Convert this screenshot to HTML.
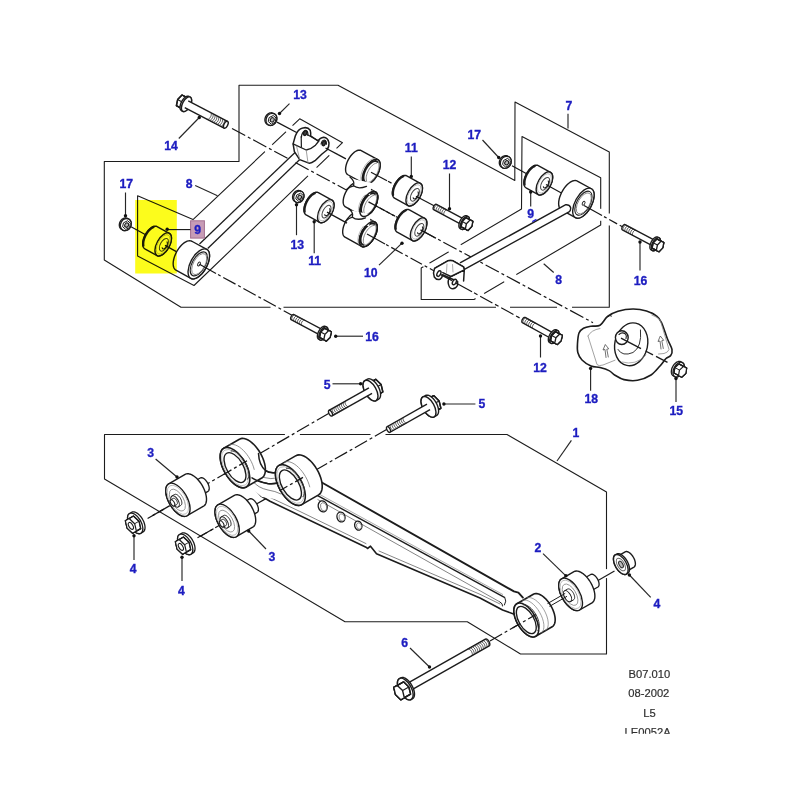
<!DOCTYPE html>
<html><head><meta charset="utf-8"><title>B07.010</title>
<style>
html,body{margin:0;padding:0;background:#fff;}
body{width:800px;height:800px;overflow:hidden;font-family:"Liberation Sans",sans-serif;}
svg{display:block;font-family:"Liberation Sans",sans-serif;filter:blur(0.45px);}
</style></head><body>
<svg width="800" height="800" viewBox="0 0 800 800">
<rect width="800" height="800" fill="#fff"/>
<polyline points="239,161.5 239,85.3 338,85.3 514.8,180.4 515,102 609.3,152 609.3,307.3 181,307.3 104.3,260 104.3,161.5 239,161.5" fill="none" stroke="#1c1c1c" stroke-width="1.1" stroke-linejoin="round" stroke-linecap="round" />
<polyline points="137.6,256 137.6,195.8 193,219.6 299.7,118.8 342.5,142.7 194,285.5 137.6,256" fill="none" stroke="#1c1c1c" stroke-width="1.1" stroke-linejoin="round" stroke-linecap="round" />
<polyline points="521.5,209 522,136.6 600.7,177.7 600.7,225 474,299.5 421.2,299.5 421.2,268 521.5,209" fill="none" stroke="#1c1c1c" stroke-width="1.1" stroke-linejoin="round" stroke-linecap="round" />
<polygon points="104.5,434.5 507,434.5 606.5,492 606.5,654 520.5,654 467.3,621.7 345,621.7 104.5,479" fill="none" stroke="#1c1c1c" stroke-width="1.1" stroke-linejoin="round" stroke-linecap="round" />
<line x1="606.5" y1="569.1" x2="606.5" y2="578.1" stroke="#fff" stroke-width="3.2" />
<line x1="496" y1="307.3" x2="510" y2="307.3" stroke="#fff" stroke-width="3.2" />
<line x1="557" y1="307.3" x2="572" y2="307.3" stroke="#fff" stroke-width="3.2" />
<line x1="270.5" y1="307.3" x2="283.5" y2="307.3" stroke="#fff" stroke-width="3.2" />
<line x1="284.9" y1="434.5" x2="299.9" y2="434.5" stroke="#fff" stroke-width="3.2" />
<line x1="370.5" y1="434.5" x2="385.5" y2="434.5" stroke="#fff" stroke-width="3.2" />
<line x1="264.97" y1="151.64" x2="272.23" y2="144.76" stroke="#fff" stroke-width="3.2" />
<line x1="285.93" y1="131.69" x2="292.47" y2="125.51" stroke="#fff" stroke-width="3.2" />
<line x1="307.98" y1="175.86" x2="316.62" y2="167.54" stroke="#fff" stroke-width="3.2" />
<line x1="329.3" y1="155.37" x2="336.5" y2="148.43" stroke="#fff" stroke-width="3.2" />
<line x1="600.7" y1="208.8" x2="600.7" y2="220.8" stroke="#fff" stroke-width="3.2" />
<line x1="609.3" y1="213.5" x2="609.3" y2="225.5" stroke="#fff" stroke-width="3.2" />
<line x1="504.27" y1="281.75" x2="516.33" y2="274.65" stroke="#fff" stroke-width="3.2" />
<line x1="475.59" y1="298.64" x2="484.21" y2="293.56" stroke="#fff" stroke-width="3.2" />
<line x1="448.67" y1="251.85" x2="460.73" y2="244.75" stroke="#fff" stroke-width="3.2" />
<line x1="423.48" y1="266.78" x2="429.52" y2="263.22" stroke="#fff" stroke-width="3.2" />
<line x1="232" y1="128.46" x2="593" y2="322.68" stroke="#161616" stroke-width="1.2" stroke-dasharray="15 3 3 3" stroke-dashoffset="0"/>
<polygon points="199.5,244 300,147.5 306,152 207.7,248.5" fill="#fff" stroke="#1c1c1c" stroke-width="0" stroke-linejoin="round" stroke-linecap="round" />
<line x1="199.5" y1="244" x2="300" y2="147.7" stroke="#1c1c1c" stroke-width="1.3" />
<line x1="207.7" y1="248.5" x2="306" y2="153.5" stroke="#1c1c1c" stroke-width="1.3" />
<polygon points="176.38,105.74 177.64,99.56 182.01,95 185.11,96.63 186.44,97.32 189.54,98.95 188.27,105.13 183.91,109.69 179.48,107.36" fill="#fff" stroke="#1c1c1c" stroke-width="1.4" stroke-linejoin="round" stroke-linecap="round" />
<line x1="182.07" y1="101.88" x2="177.64" y2="99.56" stroke="#1c1c1c" stroke-width="1.1199999999999999" />
<line x1="186.44" y1="97.32" x2="182.01" y2="95" stroke="#1c1c1c" stroke-width="1.1199999999999999" />
<line x1="189.54" y1="98.95" x2="185.11" y2="96.63" stroke="#1c1c1c" stroke-width="1.1199999999999999" />
<line x1="188.27" y1="105.13" x2="183.84" y2="102.81" stroke="#1c1c1c" stroke-width="1.1199999999999999" />
<line x1="183.91" y1="109.69" x2="179.48" y2="107.36" stroke="#1c1c1c" stroke-width="1.1199999999999999" />
<line x1="180.81" y1="108.06" x2="176.38" y2="105.74" stroke="#1c1c1c" stroke-width="1.1199999999999999" />
<polygon points="176.38,105.74 177.64,99.56 182.01,95 185.11,96.63 186.44,97.32 189.54,98.95 188.27,105.13 183.91,109.69 179.48,107.36" fill="none" stroke="#1c1c1c" stroke-width="1.4" stroke-linejoin="round" stroke-linecap="round" />
<polygon points="182.07,101.88 186.44,97.32 189.54,98.95 188.27,105.13 183.91,109.69 180.81,108.06" fill="#fff" stroke="#1c1c1c" stroke-width="1.4" stroke-linejoin="round" stroke-linecap="round" />
<polygon points="188.89,96.42 188.39,96.24 187.84,96.18 187.25,96.25 186.62,96.44 185.96,96.75 185.29,97.18 184.62,97.72 183.96,98.35 183.32,99.08 182.71,99.88 182.14,100.74 181.63,101.65 181.17,102.59 180.79,103.54 180.48,104.5 180.25,105.44 180.1,106.34 180.04,107.2 180.07,107.99 180.18,108.71 180.38,109.34 180.67,109.87 181.03,110.29 181.46,110.59 182.79,111.29 183.28,111.47 183.83,111.52 184.42,111.46 185.05,111.26 185.71,110.95 186.38,110.52 187.05,109.99 187.71,109.35 188.35,108.63 188.96,107.83 189.53,106.97 190.04,106.06 190.5,105.12 190.88,104.16 191.19,103.2 191.43,102.27 191.57,101.36 191.63,100.5 191.6,99.71 191.49,98.99 191.29,98.36 191,97.84 190.64,97.42 190.21,97.11" fill="#fff" stroke="#1c1c1c" stroke-width="1.4" stroke-linejoin="round" stroke-linecap="round" />
<ellipse cx="0" cy="0" rx="4" ry="8" transform="translate(186.5 104.2) rotate(207.66)" fill="#fff" stroke="#1c1c1c" stroke-width="1.4" />
<polygon points="227.54,121.48 188.24,100.88 184.76,107.52 224.06,128.12" fill="#fff" stroke="#1c1c1c" stroke-width="0" stroke-linejoin="round" stroke-linecap="round" />
<line x1="227.54" y1="121.48" x2="188.24" y2="100.88" stroke="#1c1c1c" stroke-width="1.4" />
<line x1="224.06" y1="128.12" x2="184.76" y2="107.52" stroke="#1c1c1c" stroke-width="1.4" />
<polyline points="225.67,120.5 226.27,121.38 226.24,122.91 225.59,124.69 224.5,126.23 223.25,127.13 222.19,127.14" fill="none" stroke="#1c1c1c" stroke-width="0.7" stroke-linejoin="round" stroke-linecap="round" />
<polyline points="223.8,119.52 224.4,120.4 224.37,121.93 223.72,123.71 222.63,125.25 221.38,126.15 220.32,126.16" fill="none" stroke="#1c1c1c" stroke-width="0.7" stroke-linejoin="round" stroke-linecap="round" />
<polyline points="221.93,118.54 222.53,119.42 222.5,120.95 221.85,122.73 220.76,124.27 219.51,125.17 218.45,125.18" fill="none" stroke="#1c1c1c" stroke-width="0.7" stroke-linejoin="round" stroke-linecap="round" />
<polyline points="220.06,117.56 220.66,118.44 220.63,119.97 219.98,121.75 218.89,123.29 217.64,124.19 216.58,124.2" fill="none" stroke="#1c1c1c" stroke-width="0.7" stroke-linejoin="round" stroke-linecap="round" />
<polyline points="218.19,116.58 218.79,117.46 218.76,118.99 218.11,120.77 217.02,122.31 215.77,123.21 214.71,123.22" fill="none" stroke="#1c1c1c" stroke-width="0.7" stroke-linejoin="round" stroke-linecap="round" />
<polyline points="216.32,115.6 216.92,116.48 216.89,118.01 216.24,119.79 215.15,121.33 213.9,122.23 212.84,122.24" fill="none" stroke="#1c1c1c" stroke-width="0.7" stroke-linejoin="round" stroke-linecap="round" />
<polyline points="214.45,114.62 215.05,115.5 215.02,117.03 214.37,118.81 213.28,120.35 212.03,121.25 210.97,121.26" fill="none" stroke="#1c1c1c" stroke-width="0.7" stroke-linejoin="round" stroke-linecap="round" />
<polyline points="212.58,113.64 213.18,114.52 213.15,116.05 212.5,117.83 211.41,119.37 210.16,120.27 209.1,120.28" fill="none" stroke="#1c1c1c" stroke-width="0.7" stroke-linejoin="round" stroke-linecap="round" />
<polyline points="210.71,112.66 211.31,113.54 211.28,115.07 210.63,116.85 209.54,118.39 208.29,119.29 207.23,119.3" fill="none" stroke="#1c1c1c" stroke-width="0.7" stroke-linejoin="round" stroke-linecap="round" />
<ellipse cx="0" cy="0" rx="1.88" ry="3.75" transform="translate(225.8 124.8) rotate(27.66)" fill="#fff" stroke="#1c1c1c" stroke-width="1.4" />
<polygon points="273.38,113.3 272.77,113.02 272.11,112.85 271.42,112.77 270.71,112.8 270,112.93 269.29,113.16 268.6,113.49 267.95,113.91 267.33,114.41 266.76,114.99 266.26,115.63 265.82,116.33 265.46,117.08 265.19,117.85 265,118.64 264.91,119.43 264.91,120.21 265,120.97 265.18,121.69 265.46,122.36 265.81,122.97 266.25,123.51 266.75,123.97 267.31,124.34 268.36,124.92 268.98,125.2 269.64,125.38 270.33,125.45 271.04,125.43 271.75,125.29 272.45,125.06 273.14,124.74 273.8,124.32 274.42,123.81 274.99,123.23 275.49,122.59 275.93,121.89 276.28,121.15 276.56,120.38 276.74,119.59 276.84,118.79 276.84,118.01 276.75,117.26 276.56,116.54 276.29,115.86 275.94,115.25 275.5,114.71 275,114.25 274.44,113.88" fill="#fff" stroke="#1c1c1c" stroke-width="1.3" stroke-linejoin="round" stroke-linecap="round" />
<ellipse cx="0" cy="0" rx="5.17" ry="6.3" transform="translate(271.4 119.4) rotate(208.8)" fill="#fff" stroke="#1c1c1c" stroke-width="1.3" />
<polygon points="269.45,117.43 273.21,115.53 276.05,117.99 275.11,122.34 271.34,124.23 268.51,121.77" fill="#fff" stroke="#1c1c1c" stroke-width="1.0" stroke-linejoin="round" stroke-linecap="round" />
<ellipse cx="0" cy="0" rx="1.86" ry="2.27" transform="translate(272.28 119.88) rotate(208.8)" fill="#bbb" stroke="#1c1c1c" stroke-width="1.1" />
<line x1="277" y1="122.1" x2="298" y2="133.3" stroke="#161616" stroke-width="1.2" />
<path d="M293.1,143.9 L295.3,136 Q298,129 302.7,128.1 Q307.5,126.5 310.2,130.3 Q311,133 310.6,135.8 L318,141 Q320,137.8 323.7,137.3 Q327.8,137.5 329,143 Q329.3,147 327,150 L322,154 L315,160.7 Q311,163.6 308.9,163.1 L299.7,159.6 L294.4,151.7 Z" fill="#fff" stroke="#1c1c1c" stroke-width="1.5" stroke-linejoin="round" stroke-linecap="round" />
<path d="M293.1,143.9 L306.2,150 Q312,148.5 315.5,145.2 Q317.5,142.5 318.5,141.5" fill="none" stroke="#1c1c1c" stroke-width="1.3" stroke-linejoin="round" stroke-linecap="round" />
<path d="M306.2,150 L308,162.8 M296.5,146 L299.7,159.3" fill="none" stroke="#888" stroke-width="0.8" stroke-linejoin="round" stroke-linecap="round" />
<path d="M301.2,136.5 L301.4,147" fill="none" stroke="#1c1c1c" stroke-width="1.2" stroke-linejoin="round" stroke-linecap="round" />
<path d="M301.4,137.2 Q301.6,132.5 305.4,130.4 Q308,130.3 308,135.4" fill="none" stroke="#1c1c1c" stroke-width="1.2" stroke-linejoin="round" stroke-linecap="round" />
<path d="M321.1,144 Q321.8,140.3 324.3,140 Q326.6,140.5 326.4,144.2" fill="none" stroke="#1c1c1c" stroke-width="1.2" stroke-linejoin="round" stroke-linecap="round" />
<ellipse cx="0" cy="0" rx="1.5" ry="2.4" transform="translate(305.2 133.1) rotate(20)" fill="#444" stroke="#1c1c1c" stroke-width="1.5" />
<ellipse cx="0" cy="0" rx="1.5" ry="2.4" transform="translate(323.9 143.3) rotate(20)" fill="#444" stroke="#1c1c1c" stroke-width="1.5" />
<line x1="306.5" y1="134.2" x2="319.5" y2="141.3" stroke="#1c1c1c" stroke-width="1.3" />
<line x1="325.5" y1="147.96" x2="338" y2="154.62" stroke="#161616" stroke-width="1.2" />
<line x1="338" y1="154.62" x2="352" y2="162.08" stroke="#161616" stroke-width="1.2" stroke-dasharray="9 3 3 3" stroke-dashoffset="0"/>
<polygon points="361.2,150.55 360.35,150.22 359.41,150.11 358.38,150.2 357.28,150.51 356.14,151.03 354.98,151.75 353.8,152.65 352.64,153.72 351.51,154.95 350.43,156.31 349.42,157.77 348.5,159.32 347.69,160.93 346.99,162.57 346.42,164.2 345.99,165.81 345.71,167.37 345.57,168.85 345.59,170.22 345.77,171.46 346.09,172.55 346.56,173.47 347.17,174.2 347.9,174.74 364.55,183.89 365.4,184.22 366.34,184.34 367.37,184.24 368.47,183.93 369.61,183.42 370.77,182.7 371.95,181.8 373.11,180.73 374.24,179.5 375.32,178.14 376.33,176.67 377.25,175.12 378.06,173.52 378.76,171.88 379.33,170.24 379.76,168.63 380.04,167.08 380.18,165.6 380.16,164.23 379.98,162.99 379.66,161.9 379.19,160.98 378.58,160.24 377.85,159.71" fill="#fff" stroke="#1c1c1c" stroke-width="1.4" stroke-linejoin="round" stroke-linecap="round" />
<ellipse cx="0" cy="0" rx="6.9" ry="13.8" transform="translate(371.2 171.8) rotate(208.8)" fill="#fff" stroke="#1c1c1c" stroke-width="1.4" />
<polyline points="362.2,182.36 361.48,181.26 361.02,179.84 360.82,178.16 360.89,176.26 361.24,174.2 361.84,172.04 362.69,169.86 363.75,167.71 365,165.66 366.39,163.77 367.89,162.1 369.44,160.71 371,159.63 372.53,158.89 373.98,158.53 375.3,158.54" fill="none" stroke="#999" stroke-width="0.7" stroke-linejoin="round" stroke-linecap="round" />
<polyline points="366.47,182.54 365.48,182.2 364.67,181.55 364.05,180.6 363.65,179.38 363.48,177.93 363.54,176.3 363.84,174.52 364.36,172.67 365.09,170.79 366,168.94 367.07,167.18 368.27,165.56 369.56,164.12 370.89,162.93 372.24,162 373.55,161.36 374.79,161.05 375.93,161.06 376.92,161.4 377.73,162.05" fill="none" stroke="#1c1c1c" stroke-width="1.9" stroke-linejoin="round" stroke-linecap="round" />
<polyline points="377.73,162.05 378.24,162.79 378.62,163.71 378.85,164.78 378.93,165.98 378.86,167.3 378.64,168.71 378.28,170.18 377.77,171.68 377.15,173.18 376.4,174.66 375.55,176.08 374.62,177.41 373.62,178.64 372.58,179.74 371.51,180.67 370.43,181.44 369.37,182.02 368.34,182.4 367.37,182.57 366.47,182.54" fill="none" stroke="#777" stroke-width="0.8" stroke-linejoin="round" stroke-linecap="round" />
<polyline points="366.72,181.05 366.39,180.08 366.22,178.95 366.21,177.67 366.37,176.29 366.69,174.83 367.16,173.33 367.77,171.81 368.52,170.33 369.37,168.9 370.32,167.57 371.34,166.37 372.4,165.31 373.48,164.44 374.56,163.76 375.61,163.3 376.61,163.07" fill="none" stroke="#666" stroke-width="0.8" stroke-linejoin="round" stroke-linecap="round" />
<line x1="371" y1="172.21" x2="387" y2="180.73" stroke="#161616" stroke-width="1.2" />
<line x1="388" y1="181.27" x2="396" y2="185.53" stroke="#161616" stroke-width="1.2" stroke-dasharray="4 3" stroke-dashoffset="0"/>
<polygon points="358.8,182.75 357.95,182.42 357.01,182.31 355.98,182.4 354.88,182.71 353.74,183.23 352.58,183.95 351.4,184.85 350.24,185.92 349.11,187.15 348.03,188.51 347.02,189.97 346.1,191.52 345.29,193.13 344.59,194.77 344.02,196.4 343.59,198.01 343.31,199.57 343.17,201.05 343.19,202.42 343.37,203.66 343.69,204.75 344.16,205.67 344.77,206.4 345.5,206.94 362.15,216.09 363,216.42 363.94,216.54 364.97,216.44 366.07,216.13 367.21,215.62 368.37,214.9 369.55,214 370.71,212.93 371.84,211.7 372.92,210.34 373.93,208.87 374.85,207.32 375.66,205.72 376.36,204.08 376.93,202.44 377.36,200.83 377.64,199.28 377.78,197.8 377.76,196.43 377.58,195.19 377.26,194.1 376.79,193.18 376.18,192.44 375.45,191.91" fill="#fff" stroke="#1c1c1c" stroke-width="1.4" stroke-linejoin="round" stroke-linecap="round" />
<ellipse cx="0" cy="0" rx="6.9" ry="13.8" transform="translate(368.8 204) rotate(208.8)" fill="#fff" stroke="#1c1c1c" stroke-width="1.4" />
<polyline points="359.8,214.56 359.08,213.46 358.62,212.04 358.42,210.36 358.49,208.46 358.84,206.4 359.44,204.24 360.29,202.06 361.35,199.91 362.6,197.86 363.99,195.97 365.49,194.3 367.04,192.91 368.6,191.83 370.13,191.09 371.58,190.73 372.9,190.74" fill="none" stroke="#999" stroke-width="0.7" stroke-linejoin="round" stroke-linecap="round" />
<polyline points="364.07,214.74 363.08,214.4 362.27,213.75 361.65,212.8 361.25,211.58 361.08,210.13 361.14,208.5 361.44,206.72 361.96,204.87 362.69,202.99 363.6,201.14 364.67,199.38 365.87,197.76 367.16,196.32 368.49,195.13 369.84,194.2 371.15,193.56 372.39,193.25 373.53,193.26 374.52,193.6 375.33,194.25" fill="none" stroke="#1c1c1c" stroke-width="1.9" stroke-linejoin="round" stroke-linecap="round" />
<polyline points="375.33,194.25 375.84,194.99 376.22,195.91 376.45,196.98 376.53,198.18 376.46,199.5 376.24,200.91 375.88,202.38 375.37,203.88 374.75,205.38 374,206.86 373.15,208.28 372.22,209.61 371.22,210.84 370.18,211.94 369.11,212.87 368.03,213.64 366.97,214.22 365.94,214.6 364.97,214.77 364.07,214.74" fill="none" stroke="#777" stroke-width="0.8" stroke-linejoin="round" stroke-linecap="round" />
<polyline points="364.32,213.25 363.99,212.28 363.82,211.15 363.81,209.87 363.97,208.49 364.29,207.03 364.76,205.53 365.37,204.01 366.12,202.53 366.97,201.1 367.92,199.77 368.94,198.57 370,197.51 371.08,196.64 372.16,195.96 373.21,195.5 374.21,195.27" fill="none" stroke="#666" stroke-width="0.8" stroke-linejoin="round" stroke-linecap="round" />
<path d="M352.8,179 L353.2,188 L358,194 L370,195 L372,183 Z" fill="#fff" stroke="#1c1c1c" stroke-width="0" stroke-linejoin="round" stroke-linecap="round" />
<path d="M350,177 Q353.8,180.5 353.8,183 L353.6,185.8 Q350,186.5 346.5,189.5 M353.6,185.8 Q358,189.5 366.5,186.3" fill="none" stroke="#1c1c1c" stroke-width="1.3" stroke-linejoin="round" stroke-linecap="round" />
<polygon points="358.3,212.95 357.45,212.62 356.51,212.51 355.48,212.6 354.38,212.91 353.24,213.43 352.08,214.15 350.9,215.05 349.74,216.12 348.61,217.35 347.53,218.71 346.52,220.17 345.6,221.72 344.79,223.33 344.09,224.97 343.52,226.6 343.09,228.21 342.81,229.77 342.67,231.25 342.69,232.62 342.87,233.86 343.19,234.95 343.66,235.87 344.27,236.6 345,237.14 361.65,246.29 362.5,246.62 363.44,246.74 364.47,246.64 365.57,246.33 366.71,245.82 367.87,245.1 369.05,244.2 370.21,243.13 371.34,241.9 372.42,240.54 373.43,239.07 374.35,237.52 375.16,235.92 375.86,234.28 376.43,232.64 376.86,231.03 377.14,229.48 377.28,228 377.26,226.63 377.08,225.39 376.76,224.3 376.29,223.38 375.68,222.64 374.95,222.11" fill="#fff" stroke="#1c1c1c" stroke-width="1.4" stroke-linejoin="round" stroke-linecap="round" />
<ellipse cx="0" cy="0" rx="6.9" ry="13.8" transform="translate(368.3 234.2) rotate(208.8)" fill="#fff" stroke="#1c1c1c" stroke-width="1.4" />
<polyline points="359.3,244.76 358.58,243.66 358.12,242.24 357.92,240.56 357.99,238.66 358.34,236.6 358.94,234.44 359.79,232.26 360.85,230.11 362.1,228.06 363.49,226.17 364.99,224.5 366.54,223.11 368.1,222.03 369.63,221.29 371.08,220.93 372.4,220.94" fill="none" stroke="#999" stroke-width="0.7" stroke-linejoin="round" stroke-linecap="round" />
<polyline points="363.57,244.94 362.58,244.6 361.77,243.95 361.15,243 360.75,241.78 360.58,240.33 360.64,238.7 360.94,236.92 361.46,235.07 362.19,233.19 363.1,231.34 364.17,229.58 365.37,227.96 366.66,226.52 367.99,225.33 369.34,224.4 370.65,223.76 371.89,223.45 373.03,223.46 374.02,223.8 374.83,224.45" fill="none" stroke="#1c1c1c" stroke-width="1.9" stroke-linejoin="round" stroke-linecap="round" />
<polyline points="374.83,224.45 375.34,225.19 375.72,226.11 375.95,227.18 376.03,228.38 375.96,229.7 375.74,231.11 375.38,232.58 374.87,234.08 374.25,235.58 373.5,237.06 372.65,238.48 371.72,239.81 370.72,241.04 369.68,242.14 368.61,243.07 367.53,243.84 366.47,244.42 365.44,244.8 364.47,244.97 363.57,244.94" fill="none" stroke="#777" stroke-width="0.8" stroke-linejoin="round" stroke-linecap="round" />
<polyline points="363.82,243.45 363.49,242.48 363.32,241.35 363.31,240.07 363.47,238.69 363.79,237.23 364.26,235.73 364.87,234.21 365.62,232.73 366.47,231.3 367.42,229.97 368.44,228.77 369.5,227.71 370.58,226.84 371.66,226.16 372.71,225.7 373.71,225.47" fill="none" stroke="#666" stroke-width="0.8" stroke-linejoin="round" stroke-linecap="round" />
<path d="M351.8,210.5 L352.2,219.5 L357,225.5 L369,226 L371,214.5 Z" fill="#fff" stroke="#1c1c1c" stroke-width="0" stroke-linejoin="round" stroke-linecap="round" />
<path d="M348.5,208.5 Q352.6,212 352.6,214.5 L352.4,217.2 Q349,218 345.8,221 M352.4,217.2 Q357,221 365.5,217.8" fill="none" stroke="#1c1c1c" stroke-width="1.3" stroke-linejoin="round" stroke-linecap="round" />
<ellipse cx="0" cy="0" rx="6.9" ry="13.8" transform="translate(368.8 204) rotate(28.8)" fill="none" stroke="#1c1c1c" stroke-width="1.4" />
<ellipse cx="0" cy="0" rx="6.9" ry="13.8" transform="translate(368.3 234.2) rotate(28.8)" fill="none" stroke="#1c1c1c" stroke-width="1.4" />
<line x1="368.5" y1="201.9" x2="384.5" y2="210.5" stroke="#161616" stroke-width="1.2" />
<line x1="386" y1="211.31" x2="395" y2="216.15" stroke="#161616" stroke-width="1.2" stroke-dasharray="4 3" stroke-dashoffset="0"/>
<polygon points="300.64,190.96 300.05,190.7 299.42,190.53 298.77,190.46 298.1,190.48 297.42,190.61 296.74,190.83 296.09,191.14 295.46,191.54 294.87,192.02 294.33,192.57 293.85,193.19 293.44,193.85 293.1,194.56 292.84,195.29 292.66,196.04 292.57,196.8 292.57,197.54 292.66,198.26 292.83,198.95 293.09,199.59 293.43,200.17 293.84,200.69 294.32,201.13 294.86,201.48 295.91,202.06 296.5,202.32 297.12,202.49 297.78,202.56 298.45,202.54 299.13,202.41 299.8,202.19 300.46,201.88 301.09,201.48 301.68,201 302.22,200.45 302.7,199.84 303.11,199.17 303.45,198.46 303.71,197.73 303.89,196.98 303.98,196.22 303.98,195.48 303.89,194.76 303.72,194.07 303.46,193.43 303.12,192.85 302.71,192.33 302.23,191.9 301.69,191.54" fill="#fff" stroke="#1c1c1c" stroke-width="1.3" stroke-linejoin="round" stroke-linecap="round" />
<ellipse cx="0" cy="0" rx="4.92" ry="6" transform="translate(298.8 196.8) rotate(208.8)" fill="#fff" stroke="#1c1c1c" stroke-width="1.3" />
<polygon points="296.98,194.94 300.57,193.14 303.27,195.48 302.37,199.62 298.78,201.42 296.09,199.08" fill="#fff" stroke="#1c1c1c" stroke-width="1.0" stroke-linejoin="round" stroke-linecap="round" />
<ellipse cx="0" cy="0" rx="1.77" ry="2.16" transform="translate(299.68 197.28) rotate(208.8)" fill="#bbb" stroke="#1c1c1c" stroke-width="1.1" />
<polygon points="318.34,192.6 317.56,192.3 316.69,192.19 315.74,192.28 314.73,192.57 313.68,193.04 312.61,193.7 311.53,194.53 310.46,195.52 309.42,196.65 308.43,197.9 307.5,199.25 306.65,200.67 305.9,202.15 305.26,203.66 304.73,205.17 304.34,206.65 304.08,208.08 303.96,209.44 303.98,210.7 304.14,211.84 304.44,212.84 304.87,213.69 305.42,214.37 306.1,214.86 319.68,222.33 320.46,222.63 321.33,222.74 322.28,222.65 323.28,222.37 324.33,221.89 325.41,221.23 326.49,220.4 327.56,219.41 328.6,218.29 329.59,217.04 330.52,215.69 331.36,214.26 332.12,212.78 332.76,211.27 333.28,209.77 333.68,208.28 333.94,206.85 334.06,205.49 334.04,204.23 333.88,203.09 333.58,202.09 333.15,201.24 332.59,200.57 331.92,200.07" fill="#fff" stroke="#1c1c1c" stroke-width="1.4" stroke-linejoin="round" stroke-linecap="round" />
<ellipse cx="0" cy="0" rx="6.35" ry="12.7" transform="translate(325.8 211.2) rotate(208.8)" fill="#fff" stroke="#1c1c1c" stroke-width="1.4" />
<polyline points="304.62,211.6 304.48,210.32 304.52,208.9 304.72,207.38 305.09,205.78 305.61,204.15 306.28,202.52 307.09,200.91 308.01,199.37 309.03,197.93 310.13,196.61 311.27,195.45 312.45,194.46 313.63,193.68 314.79,193.1" fill="none" stroke="#1c1c1c" stroke-width="2.3" stroke-linejoin="round" stroke-linecap="round" />
<ellipse cx="0" cy="0" rx="5.33" ry="10.67" transform="translate(325.8 211.2) rotate(208.8)" fill="#fff" stroke="#aaa" stroke-width="0.7" />
<ellipse cx="0" cy="0" rx="3.49" ry="6.99" transform="translate(326.5 211.59) rotate(208.8)" fill="#fff" stroke="#444" stroke-width="1.0" />
<polyline points="329.61,208.73 329.96,209.47 330,210.53 329.72,211.77 329.16,213.05 328.38,214.21 327.48,215.11 326.57,215.64 325.76,215.74 325.14,215.4 324.79,214.66" fill="none" stroke="#1c1c1c" stroke-width="1.1" stroke-linejoin="round" stroke-linecap="round" />
<line x1="327" y1="212.12" x2="347" y2="223.1" stroke="#161616" stroke-width="1.2" />
<line x1="367" y1="234.08" x2="385" y2="243.96" stroke="#161616" stroke-width="1.2" />
<line x1="386" y1="244.51" x2="440" y2="274.16" stroke="#161616" stroke-width="1.2" stroke-dasharray="3 3 13 3" stroke-dashoffset="0"/>
<polygon points="406.74,175.8 405.96,175.5 405.09,175.39 404.14,175.48 403.13,175.77 402.08,176.24 401.01,176.9 399.93,177.73 398.86,178.72 397.82,179.85 396.83,181.1 395.9,182.45 395.05,183.87 394.3,185.35 393.66,186.86 393.13,188.37 392.74,189.85 392.48,191.28 392.36,192.64 392.38,193.9 392.54,195.04 392.84,196.04 393.27,196.89 393.82,197.57 394.5,198.06 408.08,205.53 408.86,205.83 409.73,205.94 410.68,205.85 411.68,205.57 412.73,205.09 413.81,204.43 414.89,203.6 415.96,202.61 417,201.49 417.99,200.24 418.92,198.89 419.76,197.46 420.52,195.98 421.16,194.47 421.68,192.97 422.08,191.48 422.34,190.05 422.46,188.69 422.44,187.43 422.28,186.29 421.98,185.29 421.55,184.44 420.99,183.77 420.32,183.27" fill="#fff" stroke="#1c1c1c" stroke-width="1.4" stroke-linejoin="round" stroke-linecap="round" />
<ellipse cx="0" cy="0" rx="6.35" ry="12.7" transform="translate(414.2 194.4) rotate(208.8)" fill="#fff" stroke="#1c1c1c" stroke-width="1.4" />
<polyline points="393.02,194.8 392.88,193.52 392.92,192.1 393.12,190.58 393.49,188.98 394.01,187.35 394.68,185.72 395.49,184.11 396.41,182.57 397.43,181.13 398.53,179.81 399.67,178.65 400.85,177.66 402.03,176.88 403.19,176.3" fill="none" stroke="#1c1c1c" stroke-width="2.3" stroke-linejoin="round" stroke-linecap="round" />
<ellipse cx="0" cy="0" rx="5.33" ry="10.67" transform="translate(414.2 194.4) rotate(208.8)" fill="#fff" stroke="#aaa" stroke-width="0.7" />
<ellipse cx="0" cy="0" rx="3.49" ry="6.99" transform="translate(414.9 194.79) rotate(208.8)" fill="#fff" stroke="#444" stroke-width="1.0" />
<polyline points="418.01,191.93 418.36,192.67 418.4,193.73 418.12,194.97 417.56,196.25 416.78,197.41 415.88,198.31 414.97,198.84 414.16,198.94 413.54,198.6 413.19,197.86" fill="none" stroke="#1c1c1c" stroke-width="1.1" stroke-linejoin="round" stroke-linecap="round" />
<line x1="416" y1="196.19" x2="434" y2="205.79" stroke="#161616" stroke-width="1.2" />
<polygon points="409.38,209.84 408.6,209.54 407.73,209.43 406.79,209.52 405.78,209.8 404.73,210.28 403.66,210.94 402.57,211.77 401.5,212.76 400.47,213.88 399.47,215.13 398.55,216.48 397.7,217.91 396.95,219.39 396.31,220.89 395.78,222.4 395.39,223.88 395.13,225.32 395,226.68 395.02,227.94 395.18,229.08 395.48,230.08 395.91,230.93 396.47,231.6 397.15,232.1 412.48,240.53 413.26,240.83 414.13,240.94 415.08,240.85 416.08,240.57 417.13,240.09 418.21,239.43 419.29,238.6 420.36,237.61 421.4,236.49 422.39,235.24 423.32,233.89 424.16,232.46 424.92,230.98 425.56,229.47 426.08,227.97 426.48,226.48 426.74,225.05 426.86,223.69 426.84,222.43 426.68,221.29 426.38,220.29 425.95,219.44 425.39,218.77 424.72,218.27" fill="#fff" stroke="#1c1c1c" stroke-width="1.4" stroke-linejoin="round" stroke-linecap="round" />
<ellipse cx="0" cy="0" rx="6.35" ry="12.7" transform="translate(418.6 229.4) rotate(208.8)" fill="#fff" stroke="#1c1c1c" stroke-width="1.4" />
<polyline points="395.67,228.84 395.53,227.55 395.56,226.13 395.77,224.61 396.13,223.02 396.66,221.39 397.33,219.75 398.14,218.15 399.06,216.61 400.08,215.17 401.17,213.85 402.32,212.69 403.5,211.7 404.68,210.91 405.84,210.34" fill="none" stroke="#1c1c1c" stroke-width="2.3" stroke-linejoin="round" stroke-linecap="round" />
<ellipse cx="0" cy="0" rx="5.33" ry="10.67" transform="translate(418.6 229.4) rotate(208.8)" fill="#fff" stroke="#aaa" stroke-width="0.7" />
<ellipse cx="0" cy="0" rx="3.49" ry="6.99" transform="translate(419.3 229.79) rotate(208.8)" fill="#fff" stroke="#444" stroke-width="1.0" />
<polyline points="422.41,226.93 422.76,227.67 422.8,228.73 422.52,229.97 421.96,231.25 421.18,232.41 420.28,233.31 419.37,233.84 418.56,233.94 417.94,233.6 417.59,232.86" fill="none" stroke="#1c1c1c" stroke-width="1.1" stroke-linejoin="round" stroke-linecap="round" />
<line x1="420.5" y1="229.87" x2="436" y2="238.21" stroke="#161616" stroke-width="1.2" />
<polygon points="464.91,219.55 436.41,204.35 435.93,204.26 435.36,204.44 434.76,204.87 434.18,205.51 433.68,206.29 433.3,207.15 433.1,207.98 433.08,208.73 433.25,209.3 433.59,209.65 462.09,224.85" fill="#fff" stroke="#1c1c1c" stroke-width="1.35" stroke-linejoin="round" stroke-linecap="round" />
<polyline points="437.47,204.92 436.62,204.92 435.62,205.63 434.74,206.86 434.21,208.28 434.17,209.5 434.65,210.21" fill="none" stroke="#1c1c1c" stroke-width="0.7" stroke-linejoin="round" stroke-linecap="round" />
<polyline points="439.38,205.94 438.53,205.94 437.53,206.65 436.65,207.88 436.12,209.3 436.09,210.52 436.56,211.23" fill="none" stroke="#1c1c1c" stroke-width="0.7" stroke-linejoin="round" stroke-linecap="round" />
<polyline points="441.29,206.96 440.44,206.96 439.44,207.67 438.56,208.9 438.03,210.32 438,211.54 438.47,212.25" fill="none" stroke="#1c1c1c" stroke-width="0.7" stroke-linejoin="round" stroke-linecap="round" />
<polyline points="443.21,207.98 442.35,207.98 441.35,208.69 440.47,209.92 439.94,211.34 439.91,212.56 440.38,213.27" fill="none" stroke="#1c1c1c" stroke-width="0.7" stroke-linejoin="round" stroke-linecap="round" />
<polyline points="445.12,209 444.27,209 443.27,209.71 442.38,210.94 441.85,212.36 441.82,213.58 442.29,214.29" fill="none" stroke="#1c1c1c" stroke-width="0.7" stroke-linejoin="round" stroke-linecap="round" />
<polyline points="447.03,210.02 446.18,210.02 445.18,210.73 444.29,211.96 443.77,213.37 443.73,214.6 444.21,215.31" fill="none" stroke="#1c1c1c" stroke-width="0.7" stroke-linejoin="round" stroke-linecap="round" />
<polygon points="466.89,215.85 466.44,215.68 465.95,215.63 465.41,215.68 464.85,215.85 464.25,216.13 463.65,216.51 463.04,216.99 462.44,217.56 461.86,218.2 461.31,218.92 460.79,219.69 460.32,220.51 459.91,221.35 459.55,222.21 459.27,223.07 459.05,223.91 458.92,224.72 458.86,225.49 458.88,226.21 458.98,226.85 459.15,227.42 459.41,227.9 459.73,228.28 460.11,228.55 461.44,229.26 461.88,229.43 462.37,229.48 462.91,229.42 463.48,229.25 464.07,228.98 464.67,228.6 465.28,228.12 465.88,227.55 466.46,226.9 467.01,226.19 467.53,225.41 468,224.6 468.42,223.76 468.77,222.9 469.05,222.04 469.27,221.2 469.41,220.38 469.47,219.61 469.45,218.9 469.35,218.25 469.17,217.68 468.92,217.21 468.6,216.83 468.21,216.55" fill="#fff" stroke="#1c1c1c" stroke-width="1.35" stroke-linejoin="round" stroke-linecap="round" />
<ellipse cx="0" cy="0" rx="3.6" ry="7.2" transform="translate(464.82 222.91) rotate(-151.93)" fill="#fff" stroke="#1c1c1c" stroke-width="1.35" />
<polygon points="461.05,226.78 462.18,221.49 465.95,217.62 470.18,219.87 472.83,221.29 471.71,226.58 467.94,230.46 463.7,228.2" fill="#fff" stroke="#1c1c1c" stroke-width="1.35" stroke-linejoin="round" stroke-linecap="round" />
<line x1="466.41" y1="223.75" x2="462.18" y2="221.49" stroke="#1c1c1c" stroke-width="1.08" />
<line x1="470.18" y1="219.87" x2="465.95" y2="217.62" stroke="#1c1c1c" stroke-width="1.08" />
<line x1="472.83" y1="221.29" x2="468.59" y2="219.03" stroke="#1c1c1c" stroke-width="1.08" />
<line x1="471.71" y1="226.58" x2="467.47" y2="224.32" stroke="#1c1c1c" stroke-width="1.08" />
<line x1="467.94" y1="230.46" x2="463.7" y2="228.2" stroke="#1c1c1c" stroke-width="1.08" />
<line x1="465.29" y1="229.04" x2="461.05" y2="226.78" stroke="#1c1c1c" stroke-width="1.08" />
<polygon points="461.05,226.78 462.18,221.49 465.95,217.62 470.18,219.87 472.83,221.29 471.71,226.58 467.94,230.46 463.7,228.2" fill="none" stroke="#1c1c1c" stroke-width="1.35" stroke-linejoin="round" stroke-linecap="round" />
<polygon points="466.41,223.75 470.18,219.87 472.83,221.29 471.71,226.58 467.94,230.46 465.29,229.04" fill="#fff" stroke="#1c1c1c" stroke-width="1.35" stroke-linejoin="round" stroke-linecap="round" />
<polygon points="127.78,218.5 127.17,218.22 126.51,218.05 125.82,217.97 125.11,218 124.4,218.13 123.69,218.36 123,218.69 122.35,219.11 121.73,219.61 121.16,220.19 120.66,220.83 120.22,221.53 119.86,222.28 119.59,223.05 119.4,223.84 119.31,224.63 119.31,225.41 119.4,226.17 119.58,226.89 119.86,227.56 120.21,228.17 120.65,228.71 121.15,229.17 121.71,229.54 122.76,230.12 123.38,230.4 124.04,230.58 124.73,230.65 125.44,230.63 126.15,230.49 126.85,230.26 127.54,229.94 128.2,229.52 128.82,229.01 129.39,228.43 129.89,227.79 130.33,227.09 130.68,226.35 130.96,225.58 131.14,224.79 131.24,223.99 131.24,223.21 131.15,222.46 130.96,221.74 130.69,221.06 130.34,220.45 129.9,219.91 129.4,219.45 128.84,219.08" fill="#fff" stroke="#1c1c1c" stroke-width="1.3" stroke-linejoin="round" stroke-linecap="round" />
<ellipse cx="0" cy="0" rx="5.17" ry="6.3" transform="translate(125.8 224.6) rotate(208.8)" fill="#fff" stroke="#1c1c1c" stroke-width="1.3" />
<polygon points="123.85,222.63 127.61,220.73 130.45,223.19 129.51,227.54 125.74,229.43 122.91,226.97" fill="#fff" stroke="#1c1c1c" stroke-width="1.0" stroke-linejoin="round" stroke-linecap="round" />
<ellipse cx="0" cy="0" rx="1.86" ry="2.27" transform="translate(126.68 225.08) rotate(208.8)" fill="#bbb" stroke="#1c1c1c" stroke-width="1.1" />
<line x1="131" y1="226.66" x2="147" y2="235.46" stroke="#161616" stroke-width="1.2" />
<polygon points="157.05,226.53 156.27,226.22 155.4,226.11 154.45,226.2 153.45,226.49 152.4,226.96 151.32,227.62 150.24,228.45 149.17,229.44 148.13,230.57 147.14,231.82 146.21,233.17 145.37,234.6 144.62,236.08 143.97,237.58 143.45,239.09 143.05,240.57 142.79,242 142.67,243.36 142.69,244.62 142.85,245.76 143.15,246.77 143.58,247.61 144.14,248.29 144.81,248.78 157.08,255.53 157.86,255.83 158.73,255.94 159.68,255.85 160.68,255.57 161.73,255.09 162.81,254.43 163.89,253.6 164.96,252.61 166,251.49 166.99,250.24 167.92,248.89 168.76,247.46 169.52,245.98 170.16,244.47 170.68,242.97 171.08,241.48 171.34,240.05 171.46,238.69 171.44,237.43 171.28,236.29 170.98,235.29 170.55,234.44 169.99,233.77 169.32,233.27" fill="#fff" stroke="#1c1c1c" stroke-width="1.4" stroke-linejoin="round" stroke-linecap="round" />
<ellipse cx="0" cy="0" rx="6.35" ry="12.7" transform="translate(163.2 244.4) rotate(208.8)" fill="#fff" stroke="#1c1c1c" stroke-width="1.4" />
<polyline points="143.34,245.52 143.2,244.24 143.23,242.82 143.43,241.3 143.8,239.71 144.33,238.07 145,236.44 145.81,234.84 146.73,233.3 147.75,231.85 148.84,230.54 149.99,229.37 151.17,228.39 152.35,227.6 153.51,227.03" fill="none" stroke="#1c1c1c" stroke-width="2.3" stroke-linejoin="round" stroke-linecap="round" />
<ellipse cx="0" cy="0" rx="5.33" ry="10.67" transform="translate(163.2 244.4) rotate(208.8)" fill="#fff" stroke="#aaa" stroke-width="0.7" />
<ellipse cx="0" cy="0" rx="3.49" ry="6.99" transform="translate(163.9 244.79) rotate(208.8)" fill="#fff" stroke="#444" stroke-width="1.0" />
<polyline points="167.01,241.93 167.36,242.67 167.4,243.73 167.12,244.97 166.56,246.25 165.78,247.41 164.88,248.31 163.97,248.84 163.16,248.94 162.54,248.6 162.19,247.86" fill="none" stroke="#1c1c1c" stroke-width="1.1" stroke-linejoin="round" stroke-linecap="round" />
<line x1="165" y1="245.36" x2="180" y2="253.61" stroke="#161616" stroke-width="1.2" />
<polygon points="191.85,241.25 190.84,240.86 189.71,240.72 188.48,240.83 187.17,241.2 185.81,241.82 184.41,242.68 183.01,243.75 181.62,245.04 180.27,246.51 178.98,248.13 177.77,249.88 176.67,251.74 175.7,253.66 174.86,255.61 174.18,257.57 173.67,259.5 173.33,261.36 173.17,263.12 173.2,264.76 173.4,266.24 173.79,267.55 174.35,268.65 175.08,269.53 175.95,270.17 190.85,278.36 191.86,278.75 192.99,278.9 194.22,278.78 195.53,278.41 196.89,277.79 198.29,276.93 199.7,275.86 201.09,274.57 202.44,273.11 203.73,271.48 204.93,269.73 206.03,267.87 207.01,265.95 207.84,264 208.52,262.04 209.04,260.11 209.37,258.25 209.53,256.49 209.51,254.85 209.3,253.37 208.91,252.06 208.35,250.96 207.62,250.08 206.75,249.44" fill="#fff" stroke="#1c1c1c" stroke-width="1.4" stroke-linejoin="round" stroke-linecap="round" />
<ellipse cx="0" cy="0" rx="8.25" ry="16.5" transform="translate(198.8 263.9) rotate(208.8)" fill="#fff" stroke="#1c1c1c" stroke-width="1.4" />
<ellipse cx="0" cy="0" rx="6.6" ry="13.2" transform="translate(198.8 263.9) rotate(28.8)" fill="#fff" stroke="#1c1c1c" stroke-width="1.1" />
<ellipse cx="0" cy="0" rx="5.77" ry="11.55" transform="translate(199.2 264.1) rotate(28.8)" fill="#fff" stroke="#777" stroke-width="0.8" />
<ellipse cx="0" cy="0" rx="1.2" ry="2.1" transform="translate(199 264) rotate(28.8)" fill="#fff" stroke="#1c1c1c" stroke-width="0.9" />
<line x1="199.5" y1="264.34" x2="216" y2="273.41" stroke="#161616" stroke-width="1.2" />
<line x1="218" y1="274.51" x2="292" y2="315.22" stroke="#161616" stroke-width="1.2" stroke-dasharray="3 3 14 3" stroke-dashoffset="0"/>
<polygon points="323.39,330.2 293.89,314.5 293.42,314.41 292.86,314.59 292.26,315.01 291.69,315.64 291.2,316.41 290.83,317.25 290.63,318.07 290.61,318.8 290.78,319.36 291.11,319.7 320.61,335.4" fill="#fff" stroke="#1c1c1c" stroke-width="1.35" stroke-linejoin="round" stroke-linecap="round" />
<polyline points="294.95,315.06 294.11,315.06 293.12,315.76 292.26,316.97 291.74,318.37 291.71,319.57 292.17,320.27" fill="none" stroke="#1c1c1c" stroke-width="0.7" stroke-linejoin="round" stroke-linecap="round" />
<polyline points="296.86,316.08 296.02,316.08 295.04,316.78 294.17,317.99 293.65,319.38 293.62,320.59 294.09,321.29" fill="none" stroke="#1c1c1c" stroke-width="0.7" stroke-linejoin="round" stroke-linecap="round" />
<polyline points="298.77,317.1 297.93,317.1 296.95,317.8 296.08,319.01 295.56,320.4 295.53,321.61 296,322.3" fill="none" stroke="#1c1c1c" stroke-width="0.7" stroke-linejoin="round" stroke-linecap="round" />
<polyline points="300.68,318.11 299.85,318.12 298.86,318.82 298,320.02 297.48,321.42 297.45,322.63 297.91,323.32" fill="none" stroke="#1c1c1c" stroke-width="0.7" stroke-linejoin="round" stroke-linecap="round" />
<polyline points="302.6,319.13 301.76,319.13 300.78,319.83 299.91,321.04 299.39,322.44 299.36,323.64 299.82,324.34" fill="none" stroke="#1c1c1c" stroke-width="0.7" stroke-linejoin="round" stroke-linecap="round" />
<polyline points="304.51,320.15 303.67,320.15 302.69,320.85 301.82,322.06 301.3,323.46 301.27,324.66 301.74,325.36" fill="none" stroke="#1c1c1c" stroke-width="0.7" stroke-linejoin="round" stroke-linecap="round" />
<polygon points="325.38,326.44 324.94,326.28 324.44,326.22 323.91,326.28 323.34,326.45 322.75,326.73 322.14,327.11 321.54,327.59 320.94,328.16 320.36,328.81 319.81,329.52 319.29,330.29 318.82,331.11 318.41,331.95 318.05,332.81 317.77,333.67 317.56,334.51 317.42,335.33 317.36,336.1 317.38,336.81 317.48,337.46 317.66,338.02 317.91,338.5 318.23,338.88 318.62,339.16 319.94,339.86 320.39,340.03 320.88,340.08 321.42,340.02 321.98,339.85 322.58,339.58 323.18,339.19 323.79,338.72 324.39,338.15 324.97,337.5 325.52,336.78 326.03,336.01 326.5,335.2 326.92,334.35 327.27,333.49 327.55,332.63 327.77,331.79 327.9,330.98 327.96,330.21 327.94,329.49 327.84,328.85 327.67,328.28 327.41,327.8 327.09,327.42 326.71,327.15" fill="#fff" stroke="#1c1c1c" stroke-width="1.35" stroke-linejoin="round" stroke-linecap="round" />
<ellipse cx="0" cy="0" rx="3.6" ry="7.2" transform="translate(323.32 333.5) rotate(-151.98)" fill="#fff" stroke="#1c1c1c" stroke-width="1.35" />
<polygon points="319.56,337.39 320.68,332.1 324.44,328.21 328.68,330.47 331.33,331.88 330.21,337.17 326.44,341.05 322.21,338.8" fill="#fff" stroke="#1c1c1c" stroke-width="1.35" stroke-linejoin="round" stroke-linecap="round" />
<line x1="324.91" y1="334.35" x2="320.68" y2="332.1" stroke="#1c1c1c" stroke-width="1.08" />
<line x1="328.68" y1="330.47" x2="324.44" y2="328.21" stroke="#1c1c1c" stroke-width="1.08" />
<line x1="331.33" y1="331.88" x2="327.09" y2="329.62" stroke="#1c1c1c" stroke-width="1.08" />
<line x1="330.21" y1="337.17" x2="325.97" y2="334.91" stroke="#1c1c1c" stroke-width="1.08" />
<line x1="326.44" y1="341.05" x2="322.21" y2="338.8" stroke="#1c1c1c" stroke-width="1.08" />
<line x1="323.8" y1="339.64" x2="319.56" y2="337.39" stroke="#1c1c1c" stroke-width="1.08" />
<polygon points="319.56,337.39 320.68,332.1 324.44,328.21 328.68,330.47 331.33,331.88 330.21,337.17 326.44,341.05 322.21,338.8" fill="none" stroke="#1c1c1c" stroke-width="1.35" stroke-linejoin="round" stroke-linecap="round" />
<polygon points="324.91,334.35 328.68,330.47 331.33,331.88 330.21,337.17 326.44,341.05 323.8,339.64" fill="#fff" stroke="#1c1c1c" stroke-width="1.35" stroke-linejoin="round" stroke-linecap="round" />
<polygon points="507.78,156.2 507.17,155.92 506.51,155.75 505.82,155.67 505.11,155.7 504.4,155.83 503.69,156.06 503,156.39 502.35,156.81 501.73,157.31 501.16,157.89 500.66,158.53 500.22,159.23 499.86,159.98 499.59,160.75 499.4,161.54 499.31,162.33 499.31,163.11 499.4,163.87 499.58,164.59 499.86,165.26 500.21,165.87 500.65,166.41 501.15,166.87 501.71,167.24 502.76,167.82 503.38,168.1 504.04,168.28 504.73,168.35 505.44,168.33 506.15,168.19 506.85,167.96 507.54,167.64 508.2,167.22 508.82,166.71 509.39,166.13 509.89,165.49 510.33,164.79 510.68,164.05 510.96,163.28 511.14,162.49 511.24,161.69 511.24,160.91 511.15,160.16 510.96,159.44 510.69,158.76 510.34,158.15 509.9,157.61 509.4,157.15 508.84,156.78" fill="#fff" stroke="#1c1c1c" stroke-width="1.3" stroke-linejoin="round" stroke-linecap="round" />
<ellipse cx="0" cy="0" rx="5.17" ry="6.3" transform="translate(505.8 162.3) rotate(208.8)" fill="#fff" stroke="#1c1c1c" stroke-width="1.3" />
<polygon points="503.85,160.33 507.61,158.43 510.45,160.89 509.51,165.24 505.74,167.13 502.91,164.67" fill="#fff" stroke="#1c1c1c" stroke-width="1.0" stroke-linejoin="round" stroke-linecap="round" />
<ellipse cx="0" cy="0" rx="1.86" ry="2.27" transform="translate(506.68 162.78) rotate(208.8)" fill="#bbb" stroke="#1c1c1c" stroke-width="1.1" />
<line x1="512" y1="165.66" x2="528" y2="174.52" stroke="#161616" stroke-width="1.2" />
<polygon points="538.25,165.53 537.47,165.22 536.6,165.11 535.65,165.2 534.65,165.49 533.6,165.96 532.52,166.62 531.44,167.45 530.37,168.44 529.33,169.57 528.34,170.82 527.41,172.17 526.57,173.6 525.82,175.08 525.17,176.58 524.65,178.09 524.25,179.57 523.99,181 523.87,182.36 523.89,183.62 524.05,184.76 524.35,185.77 524.78,186.61 525.34,187.29 526.01,187.78 538.28,194.53 539.06,194.83 539.93,194.94 540.88,194.85 541.88,194.57 542.93,194.09 544.01,193.43 545.09,192.6 546.16,191.61 547.2,190.49 548.19,189.24 549.12,187.89 549.96,186.46 550.72,184.98 551.36,183.47 551.88,181.97 552.28,180.48 552.54,179.05 552.66,177.69 552.64,176.43 552.48,175.29 552.18,174.29 551.75,173.44 551.19,172.77 550.52,172.27" fill="#fff" stroke="#1c1c1c" stroke-width="1.4" stroke-linejoin="round" stroke-linecap="round" />
<ellipse cx="0" cy="0" rx="6.35" ry="12.7" transform="translate(544.4 183.4) rotate(208.8)" fill="#fff" stroke="#1c1c1c" stroke-width="1.4" />
<polyline points="524.54,184.52 524.4,183.24 524.43,181.82 524.63,180.3 525,178.71 525.53,177.07 526.2,175.44 527.01,173.84 527.93,172.3 528.95,170.85 530.04,169.54 531.19,168.37 532.37,167.39 533.55,166.6 534.71,166.03" fill="none" stroke="#1c1c1c" stroke-width="2.3" stroke-linejoin="round" stroke-linecap="round" />
<ellipse cx="0" cy="0" rx="5.33" ry="10.67" transform="translate(544.4 183.4) rotate(208.8)" fill="#fff" stroke="#aaa" stroke-width="0.7" />
<ellipse cx="0" cy="0" rx="3.49" ry="6.99" transform="translate(545.1 183.79) rotate(208.8)" fill="#fff" stroke="#444" stroke-width="1.0" />
<polyline points="548.21,180.93 548.56,181.67 548.6,182.73 548.32,183.97 547.76,185.25 546.98,186.41 546.08,187.31 545.17,187.84 544.36,187.94 543.74,187.6 543.39,186.86" fill="none" stroke="#1c1c1c" stroke-width="1.1" stroke-linejoin="round" stroke-linecap="round" />
<line x1="546" y1="184.49" x2="565" y2="195.02" stroke="#161616" stroke-width="1.2" />
<polygon points="577.33,181.03 576.32,180.64 575.19,180.5 573.96,180.61 572.65,180.98 571.28,181.6 569.89,182.46 568.48,183.54 567.09,184.82 565.74,186.29 564.45,187.91 563.25,189.66 562.15,191.52 561.17,193.44 560.34,195.4 559.66,197.35 559.14,199.28 558.8,201.14 558.65,202.91 558.67,204.54 558.88,206.03 559.27,207.33 559.83,208.43 560.55,209.31 561.43,209.95 575.45,217.66 576.46,218.05 577.59,218.2 578.82,218.08 580.13,217.71 581.49,217.09 582.89,216.23 584.3,215.16 585.69,213.87 587.04,212.41 588.33,210.78 589.53,209.03 590.63,207.17 591.61,205.25 592.44,203.3 593.12,201.34 593.64,199.41 593.97,197.55 594.13,195.79 594.11,194.15 593.9,192.67 593.51,191.36 592.95,190.26 592.22,189.38 591.35,188.74" fill="#fff" stroke="#1c1c1c" stroke-width="1.4" stroke-linejoin="round" stroke-linecap="round" />
<ellipse cx="0" cy="0" rx="8.25" ry="16.5" transform="translate(583.4 203.2) rotate(208.8)" fill="#fff" stroke="#1c1c1c" stroke-width="1.4" />
<ellipse cx="0" cy="0" rx="6.6" ry="13.2" transform="translate(583.4 203.2) rotate(28.8)" fill="#fff" stroke="#1c1c1c" stroke-width="1.1" />
<ellipse cx="0" cy="0" rx="5.77" ry="11.55" transform="translate(583.8 203.4) rotate(28.8)" fill="#fff" stroke="#777" stroke-width="0.8" />
<ellipse cx="0" cy="0" rx="1.2" ry="2.1" transform="translate(583.6 203.3) rotate(28.8)" fill="#fff" stroke="#1c1c1c" stroke-width="0.9" />
<path d="M460.5,262.6 L565.8,204.7 Q569.5,204.5 570.6,207.5 Q571,210.5 569,211.9 L464,269.6 Z" fill="#fff" stroke="#1c1c1c" stroke-width="0" stroke-linejoin="round" stroke-linecap="round" />
<path d="M460.5,262.6 L565.8,204.7 Q569.5,204.5 570.6,207.5 Q571,210.5 569,211.9 L464,269.6" fill="none" stroke="#1c1c1c" stroke-width="1.4" stroke-linejoin="round" stroke-linecap="round" />
<line x1="584" y1="205.54" x2="602" y2="215.52" stroke="#161616" stroke-width="1.2" />
<line x1="604" y1="216.62" x2="623" y2="227.15" stroke="#161616" stroke-width="1.2" stroke-dasharray="3 3 9 3" stroke-dashoffset="0"/>
<polygon points="655.88,240.89 625.08,224.59 624.61,224.51 624.05,224.69 623.46,225.11 622.89,225.74 622.4,226.51 622.03,227.35 621.83,228.17 621.82,228.9 621.98,229.47 622.32,229.81 653.12,246.11" fill="#fff" stroke="#1c1c1c" stroke-width="1.35" stroke-linejoin="round" stroke-linecap="round" />
<polyline points="626.14,225.15 625.3,225.16 624.32,225.86 623.46,227.07 622.94,228.47 622.91,229.67 623.38,230.37" fill="none" stroke="#1c1c1c" stroke-width="0.7" stroke-linejoin="round" stroke-linecap="round" />
<polyline points="628.06,226.17 627.22,226.17 626.24,226.87 625.37,228.08 624.86,229.48 624.83,230.69 625.3,231.38" fill="none" stroke="#1c1c1c" stroke-width="0.7" stroke-linejoin="round" stroke-linecap="round" />
<polyline points="629.97,227.18 629.13,227.19 628.15,227.89 627.29,229.1 626.77,230.49 626.74,231.7 627.21,232.4" fill="none" stroke="#1c1c1c" stroke-width="0.7" stroke-linejoin="round" stroke-linecap="round" />
<polyline points="631.89,228.19 631.05,228.2 630.07,228.9 629.2,230.11 628.69,231.51 628.66,232.71 629.13,233.41" fill="none" stroke="#1c1c1c" stroke-width="0.7" stroke-linejoin="round" stroke-linecap="round" />
<polyline points="633.8,229.21 632.96,229.21 631.98,229.91 631.12,231.13 630.6,232.52 630.57,233.73 631.04,234.42" fill="none" stroke="#1c1c1c" stroke-width="0.7" stroke-linejoin="round" stroke-linecap="round" />
<polyline points="635.72,230.22 634.88,230.23 633.9,230.93 633.03,232.14 632.52,233.53 632.49,234.74 632.96,235.44" fill="none" stroke="#1c1c1c" stroke-width="0.7" stroke-linejoin="round" stroke-linecap="round" />
<polygon points="657.87,237.14 657.42,236.97 656.93,236.92 656.39,236.98 655.83,237.15 655.23,237.43 654.63,237.81 654.03,238.29 653.43,238.86 652.85,239.51 652.3,240.23 651.78,241 651.32,241.82 650.91,242.66 650.55,243.52 650.27,244.38 650.06,245.22 649.93,246.04 649.87,246.81 649.89,247.52 649.99,248.17 650.17,248.73 650.42,249.21 650.75,249.59 651.13,249.86 652.46,250.57 652.9,250.73 653.4,250.78 653.93,250.73 654.5,250.55 655.09,250.28 655.69,249.89 656.3,249.41 656.9,248.84 657.48,248.19 658.03,247.48 658.54,246.7 659.01,245.89 659.42,245.04 659.77,244.18 660.05,243.32 660.27,242.48 660.4,241.66 660.46,240.89 660.43,240.18 660.33,239.53 660.15,238.97 659.9,238.49 659.58,238.11 659.19,237.84" fill="#fff" stroke="#1c1c1c" stroke-width="1.35" stroke-linejoin="round" stroke-linecap="round" />
<ellipse cx="0" cy="0" rx="3.6" ry="7.2" transform="translate(655.83 244.2) rotate(-152.11)" fill="#fff" stroke="#1c1c1c" stroke-width="1.35" />
<polygon points="652.07,248.09 653.17,242.8 656.93,238.91 659.58,240.31 663.82,242.56 662.72,247.85 658.96,251.74 656.31,250.34" fill="#fff" stroke="#1c1c1c" stroke-width="1.35" stroke-linejoin="round" stroke-linecap="round" />
<line x1="657.42" y1="245.04" x2="653.17" y2="242.8" stroke="#1c1c1c" stroke-width="1.08" />
<line x1="661.17" y1="241.15" x2="656.93" y2="238.91" stroke="#1c1c1c" stroke-width="1.08" />
<line x1="663.82" y1="242.56" x2="659.58" y2="240.31" stroke="#1c1c1c" stroke-width="1.08" />
<line x1="662.72" y1="247.85" x2="658.48" y2="245.6" stroke="#1c1c1c" stroke-width="1.08" />
<line x1="658.96" y1="251.74" x2="654.72" y2="249.5" stroke="#1c1c1c" stroke-width="1.08" />
<line x1="656.31" y1="250.34" x2="652.07" y2="248.09" stroke="#1c1c1c" stroke-width="1.08" />
<polygon points="652.07,248.09 653.17,242.8 656.93,238.91 659.58,240.31 663.82,242.56 662.72,247.85 658.96,251.74 656.31,250.34" fill="none" stroke="#1c1c1c" stroke-width="1.35" stroke-linejoin="round" stroke-linecap="round" />
<polygon points="657.42,245.04 661.17,241.15 663.82,242.56 662.72,247.85 658.96,251.74 656.31,250.34" fill="#fff" stroke="#1c1c1c" stroke-width="1.35" stroke-linejoin="round" stroke-linecap="round" />
<path d="M434.6,268.3 L447.8,260.8 Q450.5,260 453,260.8 L463.5,266.8 L464.3,269.8 L463.6,281 L464.3,269.8 L450.8,276.5 Q447.8,279 448.2,283 Q449,288 451.5,288.6 Q455.5,289.3 457.5,285.5 L457.6,281.5 L442.6,274.8 Q442.2,278 440,279.3 Q436.5,280.3 434.3,277 Q432.8,272.5 434.6,268.3 Z" fill="#fff" stroke="#1c1c1c" stroke-width="1.5" stroke-linejoin="round" stroke-linecap="round" />
<path d="M434.6,268.3 L447.8,260.8 Q450.5,260 453,260.8 L463.5,266.8 L464.3,269.8 L450.8,276.5 L442.8,272.6" fill="#fff" stroke="#1c1c1c" stroke-width="1.5" stroke-linejoin="round" stroke-linecap="round" />
<path d="M447,264 L446.5,272.5 M452.5,264.5 L453,272" fill="none" stroke="#999" stroke-width="0.8" stroke-linejoin="round" stroke-linecap="round" />
<ellipse cx="0" cy="0" rx="1.7" ry="3" transform="translate(438.9 273.6) rotate(28.8)" fill="#fff" stroke="#1c1c1c" stroke-width="1.4" />
<ellipse cx="0" cy="0" rx="1.7" ry="3" transform="translate(454.4 282) rotate(28.8)" fill="#fff" stroke="#1c1c1c" stroke-width="1.4" />
<line x1="440.3" y1="274.4" x2="452" y2="280.6" stroke="#1c1c1c" stroke-width="1.2" />
<line x1="456" y1="282.94" x2="472" y2="291.73" stroke="#161616" stroke-width="1.2" />
<line x1="474" y1="292.82" x2="523" y2="319.73" stroke="#161616" stroke-width="1.2" stroke-dasharray="4 3 14 3" stroke-dashoffset="0"/>
<polygon points="554.43,333.62 525.13,317.42 524.66,317.32 524.1,317.49 523.49,317.91 522.91,318.52 522.41,319.29 522.03,320.12 521.82,320.94 521.79,321.67 521.94,322.23 522.27,322.58 551.57,338.78" fill="#fff" stroke="#1c1c1c" stroke-width="1.35" stroke-linejoin="round" stroke-linecap="round" />
<polyline points="526.18,318 525.34,317.99 524.35,318.67 523.46,319.87 522.92,321.25 522.87,322.46 523.32,323.16" fill="none" stroke="#1c1c1c" stroke-width="0.7" stroke-linejoin="round" stroke-linecap="round" />
<polyline points="528.07,319.05 527.24,319.04 526.24,319.72 525.36,320.92 524.81,322.3 524.76,323.51 525.22,324.21" fill="none" stroke="#1c1c1c" stroke-width="0.7" stroke-linejoin="round" stroke-linecap="round" />
<polyline points="529.97,320.1 529.13,320.08 528.14,320.77 527.25,321.96 526.71,323.35 526.66,324.56 527.12,325.26" fill="none" stroke="#1c1c1c" stroke-width="0.7" stroke-linejoin="round" stroke-linecap="round" />
<polyline points="531.87,321.14 531.03,321.13 530.03,321.82 529.15,323.01 528.61,324.4 528.56,325.6 529.01,326.31" fill="none" stroke="#1c1c1c" stroke-width="0.7" stroke-linejoin="round" stroke-linecap="round" />
<polyline points="533.76,322.19 532.93,322.18 531.93,322.87 531.04,324.06 530.5,325.45 530.45,326.65 530.91,327.36" fill="none" stroke="#1c1c1c" stroke-width="0.7" stroke-linejoin="round" stroke-linecap="round" />
<polyline points="535.66,323.24 534.82,323.23 533.83,323.91 532.94,325.11 532.4,326.5 532.35,327.7 532.8,328.4" fill="none" stroke="#1c1c1c" stroke-width="0.7" stroke-linejoin="round" stroke-linecap="round" />
<polygon points="556.48,329.9 556.04,329.73 555.55,329.66 555.01,329.71 554.44,329.87 553.85,330.14 553.24,330.51 552.62,330.98 552.01,331.54 551.42,332.18 550.86,332.89 550.33,333.65 549.85,334.46 549.42,335.3 549.06,336.15 548.76,337 548.53,337.84 548.38,338.65 548.31,339.42 548.32,340.14 548.41,340.79 548.58,341.35 548.82,341.84 549.13,342.22 549.52,342.5 550.83,343.23 551.27,343.4 551.76,343.46 552.3,343.41 552.87,343.25 553.47,342.99 554.08,342.61 554.69,342.14 555.3,341.58 555.89,340.95 556.45,340.24 556.98,339.48 557.46,338.67 557.89,337.83 558.26,336.98 558.56,336.12 558.78,335.28 558.93,334.47 559,333.7 558.99,332.99 558.91,332.34 558.74,331.77 558.49,331.29 558.18,330.91 557.8,330.62" fill="#fff" stroke="#1c1c1c" stroke-width="1.35" stroke-linejoin="round" stroke-linecap="round" />
<ellipse cx="0" cy="0" rx="3.6" ry="7.2" transform="translate(554.31 336.93) rotate(-151.06)" fill="#fff" stroke="#1c1c1c" stroke-width="1.35" />
<polygon points="550.49,340.75 551.69,335.47 555.51,331.65 558.14,333.1 562.34,335.43 561.14,340.7 557.31,344.52 554.69,343.07" fill="#fff" stroke="#1c1c1c" stroke-width="1.35" stroke-linejoin="round" stroke-linecap="round" />
<line x1="555.89" y1="337.8" x2="551.69" y2="335.47" stroke="#1c1c1c" stroke-width="1.08" />
<line x1="559.71" y1="333.98" x2="555.51" y2="331.65" stroke="#1c1c1c" stroke-width="1.08" />
<line x1="562.34" y1="335.43" x2="558.14" y2="333.1" stroke="#1c1c1c" stroke-width="1.08" />
<line x1="561.14" y1="340.7" x2="556.94" y2="338.38" stroke="#1c1c1c" stroke-width="1.08" />
<line x1="557.31" y1="344.52" x2="553.11" y2="342.2" stroke="#1c1c1c" stroke-width="1.08" />
<line x1="554.69" y1="343.07" x2="550.49" y2="340.75" stroke="#1c1c1c" stroke-width="1.08" />
<polygon points="550.49,340.75 551.69,335.47 555.51,331.65 558.14,333.1 562.34,335.43 561.14,340.7 557.31,344.52 554.69,343.07" fill="none" stroke="#1c1c1c" stroke-width="1.35" stroke-linejoin="round" stroke-linecap="round" />
<polygon points="555.89,337.8 559.71,333.98 562.34,335.43 561.14,340.7 557.31,344.52 554.69,343.07" fill="#fff" stroke="#1c1c1c" stroke-width="1.35" stroke-linejoin="round" stroke-linecap="round" />
<path d="M577.5,343.5 C577.7,340.25 578,335.53 579,333 C580,330.47 581.5,329.43 583.5,328.3 C585.5,327.17 588.25,326.7 591,326.2 C593.75,325.7 597.25,326.92 600,325.3 C602.75,323.68 604.5,318.85 607.5,316.5 C610.5,314.15 613.75,312.45 618,311.2 C622.25,309.95 628.25,309.03 633,309 C637.75,308.97 642.5,309.78 646.5,311 C650.5,312.22 654.5,314.38 657,316.3 C659.5,318.22 659.75,318.72 661.5,322.5 C663.25,326.28 665.75,334.5 667.5,339 C669.25,343.5 671.47,346.75 672,349.5 C672.53,352.25 671.7,354 670.7,355.5 C669.7,357 667.78,356.75 666,358.5 C664.22,360.25 662.5,363.25 660,366 C657.5,368.75 654.75,372.62 651,375 C647.25,377.38 642,379.53 637.5,380.3 C633,381.07 627.75,380.45 624,379.6 C620.25,378.75 617.5,376.7 615,375.2 C612.5,373.7 611.5,371.87 609,370.6 C606.5,369.33 603,368.37 600,367.6 C597,366.83 594,367.27 591,366 C588,364.73 584.2,362.25 582,360 C579.8,357.75 578.55,355.25 577.8,352.5 C577.05,349.75 577.3,346.75 577.5,343.5 Z" fill="#fff" stroke="#1c1c1c" stroke-width="1.6" stroke-linejoin="round" stroke-linecap="round" />
<path d="M588,336 L597,364.5 Q598.5,366.5 603,365 L615,360.2 M588,336 Q591,330 600,328.5" fill="none" stroke="#8a8a8a" stroke-width="0.8" stroke-linejoin="round" stroke-linecap="round" />
<path d="M651.8,315 Q659.5,318 660.5,321 L669,349.5 Q668,352.5 664,353.5 L658.5,354" fill="none" stroke="#8a8a8a" stroke-width="0.8" stroke-linejoin="round" stroke-linecap="round" />
<path d="M608.2,316.5 Q609.5,314.5 611.5,316 M650.5,312.5 Q653,312.3 653.5,314.5" fill="none" stroke="#1c1c1c" stroke-width="1.0" stroke-linejoin="round" stroke-linecap="round" />
<ellipse cx="0" cy="0" rx="16.4" ry="21.6" transform="translate(631.2 344.3) rotate(12)" fill="#fff" stroke="#1c1c1c" stroke-width="1.4" />
<path d="M618,349.5 Q622.5,357 633,352.5 Q642,347 640.5,330" fill="none" stroke="#333" stroke-width="1.0" stroke-linejoin="round" stroke-linecap="round" />
<path d="M622,362 Q636,366 646,355" fill="none" stroke="#999" stroke-width="0.8" stroke-linejoin="round" stroke-linecap="round" />
<ellipse cx="0" cy="0" rx="6.4" ry="6.9" transform="translate(621.8 337.6) rotate(0)" fill="#fff" stroke="#1c1c1c" stroke-width="1.4" />
<path d="M619,334.5 Q622,331.5 625.5,334 Q627,336 626,338.5" fill="none" stroke="#1c1c1c" stroke-width="1.1" stroke-linejoin="round" stroke-linecap="round" />
<line x1="621" y1="338.2" x2="641" y2="348.6" stroke="#1c1c1c" stroke-width="1.4" />
<line x1="645.5" y1="351" x2="653" y2="354.8" stroke="#1c1c1c" stroke-width="1.4" />
<line x1="656" y1="356.4" x2="667.5" y2="362.3" stroke="#1c1c1c" stroke-width="1.4" />
<path d="M606,357.5 L605,349.5 L603,350 L605.3,344.5 L608.7,348.8 L606.8,349.2 L608.3,357" fill="none" stroke="#444" stroke-width="0.75" stroke-linejoin="round" stroke-linecap="round" />
<path d="M661,349 L660,341 L658,341.5 L660.3,336 L663.7,340.3 L661.8,340.7 L663.3,348.5" fill="none" stroke="#444" stroke-width="0.75" stroke-linejoin="round" stroke-linecap="round" />
<polygon points="680.88,361.72 680.29,361.48 679.66,361.36 678.97,361.37 678.26,361.51 677.52,361.76 676.77,362.14 676.03,362.63 675.31,363.23 674.61,363.91 673.96,364.68 673.36,365.53 672.82,366.42 672.35,367.36 671.96,368.31 671.66,369.28 671.45,370.24 671.34,371.17 671.32,372.05 671.4,372.89 671.58,373.65 671.85,374.32 672.21,374.91 672.65,375.38 673.17,375.74 674.75,376.61 675.33,376.85 675.97,376.97 676.65,376.96 677.37,376.83 678.1,376.57 678.85,376.19 679.59,375.7 680.32,375.11 681.01,374.42 681.67,373.65 682.27,372.81 682.81,371.91 683.27,370.98 683.66,370.02 683.96,369.05 684.17,368.1 684.28,367.17 684.3,366.28 684.22,365.45 684.04,364.68 683.77,364.01 683.41,363.43 682.97,362.95 682.45,362.59" fill="#fff" stroke="#1c1c1c" stroke-width="1.3" stroke-linejoin="round" stroke-linecap="round" />
<ellipse cx="0" cy="0" rx="4.8" ry="8" transform="translate(678.6 369.6) rotate(208.8)" fill="#fff" stroke="#1c1c1c" stroke-width="1.3" />
<polygon points="673.96,372.98 674.89,367.56 678.97,363.87 682.12,365.61 686.68,368.11 685.75,373.53 681.67,377.22 678.52,375.49" fill="#fff" stroke="#1c1c1c" stroke-width="1.2" stroke-linejoin="round" stroke-linecap="round" />
<line x1="679.45" y1="370.07" x2="674.89" y2="367.56" stroke="#1c1c1c" stroke-width="0.96" />
<line x1="683.53" y1="366.38" x2="678.97" y2="363.87" stroke="#1c1c1c" stroke-width="0.96" />
<line x1="686.68" y1="368.11" x2="682.12" y2="365.61" stroke="#1c1c1c" stroke-width="0.96" />
<line x1="685.75" y1="373.53" x2="681.2" y2="371.03" stroke="#1c1c1c" stroke-width="0.96" />
<line x1="681.67" y1="377.22" x2="677.12" y2="374.72" stroke="#1c1c1c" stroke-width="0.96" />
<line x1="678.52" y1="375.49" x2="673.96" y2="372.98" stroke="#1c1c1c" stroke-width="0.96" />
<polygon points="673.96,372.98 674.89,367.56 678.97,363.87 682.12,365.61 686.68,368.11 685.75,373.53 681.67,377.22 678.52,375.49" fill="none" stroke="#1c1c1c" stroke-width="1.2" stroke-linejoin="round" stroke-linecap="round" />
<polygon points="679.45,370.07 683.53,366.38 686.68,368.11 685.75,373.53 681.67,377.22 678.52,375.49" fill="#fff" stroke="#1c1c1c" stroke-width="1.2" stroke-linejoin="round" stroke-linecap="round" />
<line x1="329" y1="413.29" x2="150" y2="517.11" stroke="#161616" stroke-width="1.2" stroke-dasharray="14 3 3 3" stroke-dashoffset="0"/>
<line x1="387" y1="429.26" x2="200" y2="536.41" stroke="#161616" stroke-width="1.2" stroke-dasharray="14 3 3 3" stroke-dashoffset="0"/>
<line x1="522" y1="622.52" x2="490" y2="640.95" stroke="#161616" stroke-width="1.2" stroke-dasharray="14 3 3 3" stroke-dashoffset="0"/>
<polygon points="367.71,383.82 372.06,381.36 375.72,379.3 381.12,384.6 382.87,391.97 378.52,394.42 374.86,396.49 369.46,391.19" fill="#fff" stroke="#1c1c1c" stroke-width="1.4" stroke-linejoin="round" stroke-linecap="round" />
<line x1="376.77" y1="387.06" x2="381.12" y2="384.6" stroke="#1c1c1c" stroke-width="1.1199999999999999" />
<line x1="378.52" y1="394.42" x2="382.87" y2="391.97" stroke="#1c1c1c" stroke-width="1.1199999999999999" />
<line x1="374.86" y1="396.49" x2="379.22" y2="394.03" stroke="#1c1c1c" stroke-width="1.1199999999999999" />
<line x1="369.46" y1="391.19" x2="373.81" y2="388.73" stroke="#1c1c1c" stroke-width="1.1199999999999999" />
<line x1="367.71" y1="383.82" x2="372.06" y2="381.36" stroke="#1c1c1c" stroke-width="1.1199999999999999" />
<line x1="371.36" y1="381.76" x2="375.72" y2="379.3" stroke="#1c1c1c" stroke-width="1.1199999999999999" />
<polygon points="367.71,383.82 372.06,381.36 375.72,379.3 381.12,384.6 382.87,391.97 378.52,394.42 374.86,396.49 369.46,391.19" fill="none" stroke="#1c1c1c" stroke-width="1.4" stroke-linejoin="round" stroke-linecap="round" />
<polygon points="376.77,387.06 378.52,394.42 374.86,396.49 369.46,391.19 367.71,383.82 371.36,381.76" fill="#fff" stroke="#1c1c1c" stroke-width="1.4" stroke-linejoin="round" stroke-linecap="round" />
<polygon points="378.72,399.05 379.32,398.6 379.81,397.99 380.19,397.22 380.45,396.32 380.58,395.29 380.59,394.16 380.46,392.94 380.21,391.66 379.84,390.33 379.36,388.98 378.76,387.64 378.07,386.32 377.3,385.05 376.45,383.85 375.55,382.74 374.61,381.73 373.64,380.86 372.66,380.12 371.68,379.54 370.74,379.13 369.83,378.88 368.98,378.81 368.2,378.92 367.5,379.2 364.89,380.67 364.29,381.13 363.8,381.74 363.42,382.5 363.16,383.41 363.03,384.43 363.03,385.56 363.15,386.78 363.4,388.07 363.77,389.39 364.26,390.74 364.85,392.08 365.54,393.4 366.31,394.68 367.16,395.88 368.06,396.99 369.01,397.99 369.98,398.87 370.96,399.6 371.93,400.18 372.88,400.6 373.78,400.84 374.63,400.91 375.41,400.81 376.11,400.53" fill="#fff" stroke="#1c1c1c" stroke-width="1.4" stroke-linejoin="round" stroke-linecap="round" />
<ellipse cx="0" cy="0" rx="5.7" ry="11.4" transform="translate(370.5 390.6) rotate(330.53)" fill="#fff" stroke="#1c1c1c" stroke-width="1.4" />
<polygon points="332.05,415.94 372.05,393.34 368.95,387.86 328.95,410.46" fill="#fff" stroke="#1c1c1c" stroke-width="0" stroke-linejoin="round" stroke-linecap="round" />
<line x1="332.05" y1="415.94" x2="372.05" y2="393.34" stroke="#1c1c1c" stroke-width="1.4" />
<line x1="328.95" y1="410.46" x2="368.95" y2="387.86" stroke="#1c1c1c" stroke-width="1.4" />
<polyline points="333.89,414.9 332.99,414.92 331.93,414.2 330.97,412.94 330.38,411.46 330.31,410.17 330.79,409.42" fill="none" stroke="#1c1c1c" stroke-width="0.7" stroke-linejoin="round" stroke-linecap="round" />
<polyline points="335.73,413.87 334.83,413.89 333.76,413.17 332.8,411.9 332.21,410.42 332.15,409.14 332.63,408.38" fill="none" stroke="#1c1c1c" stroke-width="0.7" stroke-linejoin="round" stroke-linecap="round" />
<polyline points="337.56,412.83 336.67,412.85 335.6,412.13 334.64,410.86 334.05,409.38 333.99,408.1 334.46,407.34" fill="none" stroke="#1c1c1c" stroke-width="0.7" stroke-linejoin="round" stroke-linecap="round" />
<polyline points="339.4,411.79 338.51,411.81 337.44,411.09 336.48,409.82 335.89,408.35 335.82,407.06 336.3,406.3" fill="none" stroke="#1c1c1c" stroke-width="0.7" stroke-linejoin="round" stroke-linecap="round" />
<polyline points="341.24,410.75 340.35,410.77 339.28,410.05 338.32,408.78 337.73,407.31 337.66,406.02 338.14,405.27" fill="none" stroke="#1c1c1c" stroke-width="0.7" stroke-linejoin="round" stroke-linecap="round" />
<polyline points="343.08,409.71 342.18,409.73 341.12,409.01 340.16,407.74 339.57,406.27 339.5,404.98 339.98,404.23" fill="none" stroke="#1c1c1c" stroke-width="0.7" stroke-linejoin="round" stroke-linecap="round" />
<polyline points="344.92,408.67 344.02,408.69 342.95,407.97 341.99,406.71 341.4,405.23 341.34,403.94 341.82,403.19" fill="none" stroke="#1c1c1c" stroke-width="0.7" stroke-linejoin="round" stroke-linecap="round" />
<polyline points="346.75,407.63 345.86,407.65 344.79,406.93 343.83,405.67 343.24,404.19 343.18,402.9 343.65,402.15" fill="none" stroke="#1c1c1c" stroke-width="0.7" stroke-linejoin="round" stroke-linecap="round" />
<polyline points="348.59,406.6 347.7,406.62 346.63,405.9 345.67,404.63 345.08,403.15 345.01,401.87 345.49,401.11" fill="none" stroke="#1c1c1c" stroke-width="0.7" stroke-linejoin="round" stroke-linecap="round" />
<ellipse cx="0" cy="0" rx="1.57" ry="3.15" transform="translate(330.5 413.2) rotate(150.53)" fill="#fff" stroke="#1c1c1c" stroke-width="1.4" />
<polygon points="425.71,400.12 430.06,397.66 433.72,395.6 439.12,400.9 440.87,408.27 436.52,410.72 432.86,412.79 427.46,407.49" fill="#fff" stroke="#1c1c1c" stroke-width="1.4" stroke-linejoin="round" stroke-linecap="round" />
<line x1="434.77" y1="403.36" x2="439.12" y2="400.9" stroke="#1c1c1c" stroke-width="1.1199999999999999" />
<line x1="436.52" y1="410.72" x2="440.87" y2="408.27" stroke="#1c1c1c" stroke-width="1.1199999999999999" />
<line x1="432.86" y1="412.79" x2="437.22" y2="410.33" stroke="#1c1c1c" stroke-width="1.1199999999999999" />
<line x1="427.46" y1="407.49" x2="431.81" y2="405.03" stroke="#1c1c1c" stroke-width="1.1199999999999999" />
<line x1="425.71" y1="400.12" x2="430.06" y2="397.66" stroke="#1c1c1c" stroke-width="1.1199999999999999" />
<line x1="429.36" y1="398.06" x2="433.72" y2="395.6" stroke="#1c1c1c" stroke-width="1.1199999999999999" />
<polygon points="425.71,400.12 430.06,397.66 433.72,395.6 439.12,400.9 440.87,408.27 436.52,410.72 432.86,412.79 427.46,407.49" fill="none" stroke="#1c1c1c" stroke-width="1.4" stroke-linejoin="round" stroke-linecap="round" />
<polygon points="434.77,403.36 436.52,410.72 432.86,412.79 427.46,407.49 425.71,400.12 429.36,398.06" fill="#fff" stroke="#1c1c1c" stroke-width="1.4" stroke-linejoin="round" stroke-linecap="round" />
<polygon points="436.72,415.35 437.32,414.9 437.81,414.29 438.19,413.52 438.45,412.62 438.58,411.59 438.59,410.46 438.46,409.24 438.21,407.96 437.84,406.63 437.36,405.28 436.76,403.94 436.07,402.62 435.3,401.35 434.45,400.15 433.55,399.04 432.61,398.03 431.64,397.16 430.66,396.42 429.68,395.84 428.74,395.43 427.83,395.18 426.98,395.11 426.2,395.22 425.5,395.5 422.89,396.97 422.29,397.43 421.8,398.04 421.42,398.8 421.16,399.71 421.03,400.73 421.03,401.86 421.15,403.08 421.4,404.37 421.77,405.69 422.26,407.04 422.85,408.38 423.54,409.7 424.31,410.98 425.16,412.18 426.06,413.29 427.01,414.29 427.98,415.17 428.96,415.9 429.93,416.48 430.88,416.9 431.78,417.14 432.63,417.21 433.41,417.11 434.11,416.83" fill="#fff" stroke="#1c1c1c" stroke-width="1.4" stroke-linejoin="round" stroke-linecap="round" />
<ellipse cx="0" cy="0" rx="5.7" ry="11.4" transform="translate(428.5 406.9) rotate(330.53)" fill="#fff" stroke="#1c1c1c" stroke-width="1.4" />
<polygon points="390.05,432.24 430.05,409.64 426.95,404.16 386.95,426.76" fill="#fff" stroke="#1c1c1c" stroke-width="0" stroke-linejoin="round" stroke-linecap="round" />
<line x1="390.05" y1="432.24" x2="430.05" y2="409.64" stroke="#1c1c1c" stroke-width="1.4" />
<line x1="386.95" y1="426.76" x2="426.95" y2="404.16" stroke="#1c1c1c" stroke-width="1.4" />
<polyline points="391.89,431.2 390.99,431.22 389.93,430.5 388.97,429.24 388.38,427.76 388.31,426.47 388.79,425.72" fill="none" stroke="#1c1c1c" stroke-width="0.7" stroke-linejoin="round" stroke-linecap="round" />
<polyline points="393.73,430.17 392.83,430.19 391.76,429.47 390.8,428.2 390.21,426.72 390.15,425.44 390.63,424.68" fill="none" stroke="#1c1c1c" stroke-width="0.7" stroke-linejoin="round" stroke-linecap="round" />
<polyline points="395.56,429.13 394.67,429.15 393.6,428.43 392.64,427.16 392.05,425.68 391.99,424.4 392.46,423.64" fill="none" stroke="#1c1c1c" stroke-width="0.7" stroke-linejoin="round" stroke-linecap="round" />
<polyline points="397.4,428.09 396.51,428.11 395.44,427.39 394.48,426.12 393.89,424.65 393.82,423.36 394.3,422.6" fill="none" stroke="#1c1c1c" stroke-width="0.7" stroke-linejoin="round" stroke-linecap="round" />
<polyline points="399.24,427.05 398.35,427.07 397.28,426.35 396.32,425.08 395.73,423.61 395.66,422.32 396.14,421.57" fill="none" stroke="#1c1c1c" stroke-width="0.7" stroke-linejoin="round" stroke-linecap="round" />
<polyline points="401.08,426.01 400.18,426.03 399.12,425.31 398.16,424.04 397.57,422.57 397.5,421.28 397.98,420.53" fill="none" stroke="#1c1c1c" stroke-width="0.7" stroke-linejoin="round" stroke-linecap="round" />
<polyline points="402.92,424.97 402.02,424.99 400.95,424.27 399.99,423.01 399.4,421.53 399.34,420.24 399.82,419.49" fill="none" stroke="#1c1c1c" stroke-width="0.7" stroke-linejoin="round" stroke-linecap="round" />
<polyline points="404.75,423.93 403.86,423.95 402.79,423.23 401.83,421.97 401.24,420.49 401.18,419.2 401.65,418.45" fill="none" stroke="#1c1c1c" stroke-width="0.7" stroke-linejoin="round" stroke-linecap="round" />
<polyline points="406.59,422.9 405.7,422.92 404.63,422.2 403.67,420.93 403.08,419.45 403.01,418.17 403.49,417.41" fill="none" stroke="#1c1c1c" stroke-width="0.7" stroke-linejoin="round" stroke-linecap="round" />
<ellipse cx="0" cy="0" rx="1.57" ry="3.15" transform="translate(388.5 429.5) rotate(150.53)" fill="#fff" stroke="#1c1c1c" stroke-width="1.4" />
<path d="M300,470 L319,481 L513.9,591.4 L518.4,592.6 L528,600 L530,634 L515,614.5 L502.6,610 L480,598 L376.5,553.7 L370.5,546.2 L367.5,548.5 L270,501.25 L261,496 L250,470 Z" fill="#fff" stroke="#1c1c1c" stroke-width="0" stroke-linejoin="round" stroke-linecap="round" />
<polyline points="319.2,481 513.9,591.4 518.4,592.6 522.9,597.6" fill="none" stroke="#1c1c1c" stroke-width="1.9" stroke-linejoin="round" stroke-linecap="round" />
<line x1="313.1" y1="493.2" x2="504.9" y2="597.6" stroke="#1c1c1c" stroke-width="1.4" />
<line x1="314.5" y1="491.6" x2="503" y2="594.6" stroke="#888" stroke-width="0.7" />
<line x1="317.5" y1="499.4" x2="500" y2="602" stroke="#666" stroke-width="0.8" />
<polyline points="252.5,486.3 261,496 270,501.25 366.5,547.5 367.5,548.5 370.5,546.2 376.5,553.7 480,598 502.6,610 515,614.5" fill="none" stroke="#1c1c1c" stroke-width="1.6" stroke-linejoin="round" stroke-linecap="round" />
<polyline points="268,496.5 300,511.5 366,543.6" fill="none" stroke="#666" stroke-width="0.8" stroke-linejoin="round" stroke-linecap="round" />
<polyline points="379,551 480,594.3 500,604" fill="none" stroke="#666" stroke-width="0.8" stroke-linejoin="round" stroke-linecap="round" />
<path d="M504.9,597.6 Q507,601 504.5,605 M500,602 Q503,603.5 502.6,606" fill="none" stroke="#1c1c1c" stroke-width="1.0" stroke-linejoin="round" stroke-linecap="round" />
<ellipse cx="0" cy="0" rx="4.4" ry="5.6" transform="translate(322.7 506.4) rotate(-15)" fill="#fff" stroke="#1c1c1c" stroke-width="1.3" />
<ellipse cx="0" cy="0" rx="4" ry="5" transform="translate(341 517) rotate(-15)" fill="#fff" stroke="#1c1c1c" stroke-width="1.3" />
<ellipse cx="0" cy="0" rx="3.6" ry="4.6" transform="translate(358.3 525.6) rotate(-15)" fill="#fff" stroke="#1c1c1c" stroke-width="1.3" />
<ellipse cx="0" cy="0" rx="3" ry="4.2" transform="translate(323.6 506.8) rotate(-15)" fill="#fff" stroke="#666" stroke-width="0.7" />
<ellipse cx="0" cy="0" rx="2.7" ry="3.7" transform="translate(341.8 517.4) rotate(-15)" fill="#fff" stroke="#666" stroke-width="0.7" />
<ellipse cx="0" cy="0" rx="2.4" ry="3.3" transform="translate(359 526) rotate(-15)" fill="#fff" stroke="#666" stroke-width="0.7" />
<path d="M252,446 Q262,470 268,478 Q275,488 284,489 L296,502 L262,497 L244,482 Z" fill="#fff" stroke="#1c1c1c" stroke-width="0" stroke-linejoin="round" stroke-linecap="round" />
<path d="M256.3,455 Q258,465 265,470.5 Q270,473.5 276,472.5" fill="none" stroke="#1c1c1c" stroke-width="1.6" stroke-linejoin="round" stroke-linecap="round" />
<path d="M251,476.5 Q258,481.5 267.5,483.5 Q273,484.2 278,483" fill="none" stroke="#1c1c1c" stroke-width="1.6" stroke-linejoin="round" stroke-linecap="round" />
<path d="M252.5,462 Q256,474 264,477.5 Q271,479.5 277,478" fill="none" stroke="#666" stroke-width="0.8" stroke-linejoin="round" stroke-linecap="round" />
<path d="M252.5,481 Q258,488 268,490 Q275,491 281,494" fill="none" stroke="#666" stroke-width="0.8" stroke-linejoin="round" stroke-linecap="round" />
<polygon points="318.59,494.82 319.77,493.92 320.74,492.69 321.47,491.17 321.97,489.38 322.21,487.34 322.2,485.09 321.93,482.68 321.41,480.14 320.65,477.52 319.66,474.86 318.46,472.2 317.07,469.6 315.51,467.09 313.82,464.73 312,462.54 310.11,460.57 308.17,458.85 306.22,457.42 304.28,456.28 302.39,455.48 300.59,455.01 298.91,454.88 297.36,455.11 295.99,455.68 279.1,465.43 277.92,466.33 276.95,467.56 276.22,469.08 275.72,470.88 275.48,472.91 275.49,475.16 275.76,477.57 276.27,480.11 277.03,482.73 278.02,485.39 279.22,488.05 280.61,490.65 282.17,493.16 283.87,495.52 285.68,497.71 287.57,499.68 289.52,501.4 291.47,502.83 293.41,503.97 295.29,504.77 297.09,505.24 298.78,505.37 300.33,505.14 301.7,504.57" fill="#fff" stroke="#1c1c1c" stroke-width="1.6" stroke-linejoin="round" stroke-linecap="round" />
<ellipse cx="0" cy="0" rx="11.3" ry="22.6" transform="translate(290.4 485) rotate(-30)" fill="#fff" stroke="#1c1c1c" stroke-width="1.6" />
<polyline points="284.64,462.24 286.04,461.77 287.6,461.63 289.28,461.83 291.07,462.36 292.94,463.22 294.85,464.38 296.77,465.84 298.68,467.57 300.53,469.53 302.3,471.71 303.96,474.05 305.48,476.52 306.84,479.08 308.01,481.7 308.98,484.31 309.72,486.89" fill="none" stroke="#777" stroke-width="0.8" stroke-linejoin="round" stroke-linecap="round" />
<ellipse cx="0" cy="0" rx="10.17" ry="20.34" transform="translate(290.4 485) rotate(-30)" fill="#fff" stroke="#aaa" stroke-width="0.7" />
<ellipse cx="0" cy="0" rx="8.36" ry="16.72" transform="translate(290.4 485) rotate(-30)" fill="#fff" stroke="#1c1c1c" stroke-width="1.4" />
<polyline points="286.45,468.26 288.05,468.21 289.81,468.62 291.68,469.47 293.6,470.74 295.52,472.39 297.38,474.37 299.11,476.62 300.67,479.07 302.01,481.65 303.1,484.27 303.88,486.87 304.35,489.36 304.49,491.66 304.29,493.7 303.77,495.43 302.92,496.79" fill="none" stroke="#333" stroke-width="1.0" stroke-linejoin="round" stroke-linecap="round" />
<polygon points="261.79,478 262.96,477.1 263.92,475.89 264.65,474.38 265.14,472.6 265.38,470.58 265.37,468.36 265.1,465.97 264.59,463.45 263.84,460.85 262.86,458.21 261.67,455.58 260.29,453 258.74,450.52 257.06,448.17 255.26,446 253.39,444.05 251.47,442.35 249.53,440.92 247.61,439.8 245.74,439 243.95,438.53 242.28,438.41 240.75,438.64 239.39,439.2 223.8,448.2 222.63,449.1 221.67,450.31 220.94,451.82 220.45,453.6 220.21,455.62 220.22,457.84 220.49,460.23 221,462.75 221.75,465.35 222.73,467.99 223.92,470.62 225.3,473.2 226.85,475.68 228.53,478.03 230.32,480.2 232.2,482.15 234.12,483.85 236.06,485.28 237.98,486.4 239.85,487.2 241.64,487.67 243.31,487.79 244.84,487.56 246.2,487" fill="#fff" stroke="#1c1c1c" stroke-width="1.6" stroke-linejoin="round" stroke-linecap="round" />
<ellipse cx="0" cy="0" rx="11.2" ry="22.4" transform="translate(235 467.6) rotate(-30)" fill="#fff" stroke="#1c1c1c" stroke-width="1.6" />
<polyline points="229.34,445.02 230.73,444.55 232.27,444.41 233.94,444.61 235.71,445.13 237.56,445.98 239.46,447.14 241.36,448.59 243.25,450.3 245.09,452.25 246.84,454.4 248.49,456.72 249.99,459.17 251.34,461.71 252.5,464.3 253.46,466.89 254.2,469.45" fill="none" stroke="#777" stroke-width="0.8" stroke-linejoin="round" stroke-linecap="round" />
<ellipse cx="0" cy="0" rx="10.08" ry="20.16" transform="translate(235 467.6) rotate(-30)" fill="#fff" stroke="#aaa" stroke-width="0.7" />
<ellipse cx="0" cy="0" rx="8.29" ry="16.58" transform="translate(235 467.6) rotate(-30)" fill="#fff" stroke="#1c1c1c" stroke-width="1.4" />
<polyline points="231.12,450.99 232.7,450.94 234.44,451.35 236.3,452.19 238.2,453.45 240.1,455.08 241.94,457.05 243.66,459.28 245.21,461.71 246.54,464.26 247.61,466.87 248.39,469.44 248.86,471.9 248.99,474.18 248.8,476.21 248.27,477.92 247.44,479.27" fill="none" stroke="#333" stroke-width="1.0" stroke-linejoin="round" stroke-linecap="round" />
<path d="M258.5,453.5 Q259,465 265.5,470.5 Q270,473.5 275.5,472.6" fill="none" stroke="#1c1c1c" stroke-width="1.5" stroke-linejoin="round" stroke-linecap="round" />
<path d="M252,477.8 Q258,481.8 267.5,483.6 Q273,484.2 277.5,483" fill="none" stroke="#1c1c1c" stroke-width="1.5" stroke-linejoin="round" stroke-linecap="round" />
<polygon points="552.15,626.78 553.14,626.03 553.94,625.01 554.55,623.74 554.97,622.25 555.17,620.56 555.16,618.69 554.94,616.68 554.5,614.57 553.87,612.39 553.05,610.17 552.05,607.97 550.9,605.8 549.6,603.72 548.18,601.75 546.68,599.93 545.1,598.29 543.49,596.86 541.86,595.66 540.25,594.72 538.68,594.05 537.19,593.66 535.78,593.56 534.5,593.74 533.35,594.22 516.9,603.72 515.92,604.47 515.11,605.49 514.5,606.76 514.09,608.25 513.89,609.94 513.9,611.81 514.12,613.82 514.55,615.93 515.18,618.11 516,620.33 517,622.53 518.16,624.7 519.46,626.78 520.87,628.75 522.38,630.57 523.95,632.21 525.56,633.64 527.19,634.84 528.8,635.78 530.37,636.45 531.87,636.84 533.27,636.94 534.56,636.76 535.7,636.28" fill="#fff" stroke="#1c1c1c" stroke-width="1.6" stroke-linejoin="round" stroke-linecap="round" />
<ellipse cx="0" cy="0" rx="9.4" ry="18.8" transform="translate(526.3 620) rotate(-30)" fill="#fff" stroke="#1c1c1c" stroke-width="1.6" />
<polyline points="522.84,600.37 524.64,600.05 526.67,600.32 528.86,601.16 531.15,602.54 533.45,604.41 535.68,606.72 537.76,609.38 539.64,612.3 541.23,615.38 542.49,618.52 543.37,621.61 543.85,624.53 543.9,627.2 543.53,629.52 542.74,631.41 541.57,632.81" fill="none" stroke="#777" stroke-width="0.7" stroke-linejoin="round" stroke-linecap="round" />
<polyline points="527.17,597.87 528.97,597.55 531,597.82 533.19,598.66 535.48,600.04 537.78,601.91 540.01,604.22 542.09,606.88 543.97,609.8 545.56,612.88 546.82,616.02 547.7,619.11 548.18,622.03 548.23,624.7 547.86,627.02 547.07,628.91 545.9,630.31" fill="none" stroke="#777" stroke-width="0.7" stroke-linejoin="round" stroke-linecap="round" />
<ellipse cx="0" cy="0" rx="7.52" ry="15.04" transform="translate(526.3 620) rotate(-30)" fill="#fff" stroke="#1c1c1c" stroke-width="1.4" />
<polyline points="523.06,604.77 524.49,604.72 526.07,605.09 527.76,605.86 529.49,607 531.21,608.48 532.88,610.26 534.44,612.29 535.84,614.49 537.05,616.81 538.02,619.17 538.73,621.51 539.15,623.74 539.28,625.81 539.1,627.65 538.62,629.2 537.87,630.42" fill="none" stroke="#333" stroke-width="1.0" stroke-linejoin="round" stroke-linecap="round" />
<line x1="247" y1="460.85" x2="222" y2="475.35" stroke="#161616" stroke-width="1.2" stroke-dasharray="9 3 3 3" stroke-dashoffset="0"/>
<line x1="303" y1="477.39" x2="278" y2="491.72" stroke="#161616" stroke-width="1.2" stroke-dasharray="9 3 3 3" stroke-dashoffset="0"/>
<line x1="536" y1="614.46" x2="512" y2="628.28" stroke="#161616" stroke-width="1.2" stroke-dasharray="9 3 3 3" stroke-dashoffset="0"/>
<polygon points="207.99,491.35 208.39,491.04 208.72,490.62 208.97,490.1 209.14,489.49 209.23,488.79 209.22,488.03 209.13,487.2 208.95,486.33 208.69,485.44 208.36,484.53 207.95,483.62 207.47,482.73 206.94,481.87 206.36,481.06 205.74,480.31 205.09,479.64 204.43,479.05 203.76,478.56 203.09,478.17 202.45,477.9 201.83,477.74 201.26,477.7 200.73,477.77 200.26,477.97 190.49,483.61 190.09,483.92 189.76,484.34 189.5,484.86 189.33,485.47 189.25,486.17 189.26,486.93 189.35,487.76 189.52,488.63 189.78,489.52 190.12,490.43 190.53,491.34 191.01,492.23 191.54,493.09 192.12,493.9 192.74,494.65 193.39,495.32 194.05,495.91 194.72,496.4 195.38,496.79 196.03,497.06 196.64,497.22 197.22,497.26 197.75,497.19 198.22,496.99" fill="#fff" stroke="#1c1c1c" stroke-width="1.3" stroke-linejoin="round" stroke-linecap="round" />
<ellipse cx="0" cy="0" rx="3.86" ry="7.73" transform="translate(194.35 490.3) rotate(-30)" fill="#fff" stroke="#1c1c1c" stroke-width="1.3" />
<polygon points="203.55,506.23 204.52,505.5 205.3,504.5 205.9,503.26 206.31,501.8 206.5,500.14 206.49,498.31 206.28,496.35 205.85,494.28 205.24,492.15 204.43,489.98 203.45,487.82 202.32,485.7 201.05,483.66 199.67,481.73 198.19,479.95 196.65,478.35 195.07,476.95 193.48,475.78 191.91,474.86 190.37,474.2 188.9,473.82 187.53,473.72 186.27,473.9 185.15,474.37 168.7,483.87 167.74,484.6 166.95,485.6 166.35,486.84 165.95,488.3 165.75,489.96 165.76,491.79 165.98,493.75 166.4,495.82 167.02,497.95 167.82,500.12 168.8,502.28 169.93,504.4 171.2,506.44 172.59,508.37 174.06,510.15 175.6,511.75 177.18,513.15 178.77,514.32 180.35,515.24 181.88,515.9 183.35,516.28 184.72,516.38 185.98,516.2 187.1,515.73" fill="#fff" stroke="#1c1c1c" stroke-width="1.4" stroke-linejoin="round" stroke-linecap="round" />
<ellipse cx="0" cy="0" rx="9.2" ry="18.4" transform="translate(177.9 499.8) rotate(-30)" fill="#fff" stroke="#1c1c1c" stroke-width="1.4" />
<ellipse cx="0" cy="0" rx="8.1" ry="16.19" transform="translate(177.9 499.8) rotate(-30)" fill="#fff" stroke="#aaa" stroke-width="0.7" />
<ellipse cx="0" cy="0" rx="6.07" ry="12.14" transform="translate(177.38 500.1) rotate(-30)" fill="#fff" stroke="#8a8a8a" stroke-width="0.8" />
<polygon points="180.85,505.32 181.18,505.07 181.45,504.73 181.65,504.31 181.79,503.81 181.86,503.25 181.85,502.63 181.78,501.96 181.64,501.25 181.43,500.53 181.15,499.79 180.82,499.06 180.44,498.34 180,497.64 179.53,496.99 179.03,496.38 178.51,495.84 177.97,495.36 177.43,494.96 176.89,494.65 176.37,494.43 175.87,494.3 175.41,494.26 174.98,494.32 174.6,494.48 172,495.98 171.67,496.23 171.41,496.57 171.2,496.99 171.07,497.49 171,498.05 171,498.67 171.08,499.34 171.22,500.05 171.43,500.77 171.7,501.51 172.03,502.24 172.42,502.96 172.85,503.66 173.32,504.31 173.82,504.92 174.35,505.46 174.88,505.94 175.43,506.34 175.96,506.65 176.48,506.87 176.98,507 177.45,507.04 177.88,506.98 178.26,506.82" fill="#fff" stroke="#1c1c1c" stroke-width="1.0" stroke-linejoin="round" stroke-linecap="round" />
<ellipse cx="0" cy="0" rx="3.13" ry="6.26" transform="translate(175.13 501.4) rotate(-30)" fill="#fff" stroke="#1c1c1c" stroke-width="1.0" />
<polygon points="176.88,504.43 177.06,504.29 177.21,504.1 177.32,503.86 177.4,503.59 177.44,503.27 177.44,502.92 177.39,502.55 177.31,502.16 177.2,501.75 177.04,501.34 176.86,500.93 176.64,500.53 176.4,500.14 176.14,499.77 175.86,499.43 175.57,499.13 175.27,498.86 174.96,498.64 174.66,498.47 174.37,498.34 174.09,498.27 173.83,498.25 173.59,498.28 173.38,498.37 170.78,499.87 170.6,500.01 170.45,500.2 170.34,500.44 170.26,500.72 170.22,501.03 170.22,501.38 170.27,501.75 170.35,502.14 170.46,502.55 170.62,502.96 170.8,503.37 171.02,503.77 171.26,504.16 171.52,504.53 171.8,504.87 172.09,505.17 172.39,505.44 172.7,505.66 173,505.83 173.29,505.96 173.57,506.03 173.83,506.05 174.07,506.02 174.28,505.93" fill="#fff" stroke="#1c1c1c" stroke-width="1.0" stroke-linejoin="round" stroke-linecap="round" />
<ellipse cx="0" cy="0" rx="1.75" ry="3.5" transform="translate(172.53 502.9) rotate(-30)" fill="#fff" stroke="#1c1c1c" stroke-width="1.0" />
<polygon points="257.19,512.35 257.59,512.04 257.92,511.62 258.17,511.1 258.34,510.49 258.43,509.79 258.42,509.03 258.33,508.2 258.15,507.33 257.89,506.44 257.56,505.53 257.15,504.62 256.67,503.73 256.14,502.87 255.56,502.06 254.94,501.31 254.29,500.64 253.63,500.05 252.96,499.56 252.29,499.17 251.65,498.9 251.03,498.74 250.46,498.7 249.93,498.77 249.46,498.97 239.69,504.61 239.29,504.92 238.96,505.34 238.7,505.86 238.53,506.47 238.45,507.17 238.46,507.93 238.55,508.76 238.72,509.63 238.98,510.52 239.32,511.43 239.73,512.34 240.21,513.23 240.74,514.09 241.32,514.9 241.94,515.65 242.59,516.32 243.25,516.91 243.92,517.4 244.58,517.79 245.23,518.06 245.84,518.22 246.42,518.26 246.95,518.19 247.42,517.99" fill="#fff" stroke="#1c1c1c" stroke-width="1.3" stroke-linejoin="round" stroke-linecap="round" />
<ellipse cx="0" cy="0" rx="3.86" ry="7.73" transform="translate(243.55 511.3) rotate(-30)" fill="#fff" stroke="#1c1c1c" stroke-width="1.3" />
<polygon points="252.75,527.23 253.72,526.5 254.5,525.5 255.1,524.26 255.51,522.8 255.7,521.14 255.69,519.31 255.48,517.35 255.05,515.28 254.44,513.15 253.63,510.98 252.65,508.82 251.52,506.7 250.25,504.66 248.87,502.73 247.39,500.95 245.85,499.35 244.27,497.95 242.68,496.78 241.11,495.86 239.57,495.2 238.1,494.82 236.73,494.72 235.47,494.9 234.35,495.37 217.9,504.87 216.94,505.6 216.15,506.6 215.55,507.84 215.15,509.3 214.95,510.96 214.96,512.79 215.18,514.75 215.6,516.82 216.22,518.95 217.02,521.12 218,523.28 219.13,525.4 220.4,527.44 221.79,529.37 223.26,531.15 224.8,532.75 226.38,534.15 227.97,535.32 229.55,536.24 231.08,536.9 232.55,537.28 233.92,537.38 235.18,537.2 236.3,536.73" fill="#fff" stroke="#1c1c1c" stroke-width="1.4" stroke-linejoin="round" stroke-linecap="round" />
<ellipse cx="0" cy="0" rx="9.2" ry="18.4" transform="translate(227.1 520.8) rotate(-30)" fill="#fff" stroke="#1c1c1c" stroke-width="1.4" />
<ellipse cx="0" cy="0" rx="8.1" ry="16.19" transform="translate(227.1 520.8) rotate(-30)" fill="#fff" stroke="#aaa" stroke-width="0.7" />
<ellipse cx="0" cy="0" rx="6.07" ry="12.14" transform="translate(226.58 521.1) rotate(-30)" fill="#fff" stroke="#8a8a8a" stroke-width="0.8" />
<polygon points="230.05,526.32 230.38,526.07 230.65,525.73 230.85,525.31 230.99,524.81 231.06,524.25 231.05,523.63 230.98,522.96 230.84,522.25 230.63,521.53 230.35,520.79 230.02,520.06 229.64,519.34 229.2,518.64 228.73,517.99 228.23,517.38 227.71,516.84 227.17,516.36 226.63,515.96 226.09,515.65 225.57,515.43 225.07,515.3 224.61,515.26 224.18,515.32 223.8,515.48 221.2,516.98 220.87,517.23 220.61,517.57 220.4,517.99 220.27,518.49 220.2,519.05 220.2,519.67 220.28,520.34 220.42,521.05 220.63,521.77 220.9,522.51 221.23,523.24 221.62,523.96 222.05,524.66 222.52,525.31 223.02,525.92 223.55,526.46 224.08,526.94 224.63,527.34 225.16,527.65 225.68,527.87 226.18,528 226.65,528.04 227.08,527.98 227.46,527.82" fill="#fff" stroke="#1c1c1c" stroke-width="1.0" stroke-linejoin="round" stroke-linecap="round" />
<ellipse cx="0" cy="0" rx="3.13" ry="6.26" transform="translate(224.33 522.4) rotate(-30)" fill="#fff" stroke="#1c1c1c" stroke-width="1.0" />
<polygon points="226.08,525.43 226.26,525.29 226.41,525.1 226.52,524.86 226.6,524.58 226.64,524.27 226.64,523.92 226.59,523.55 226.51,523.16 226.4,522.75 226.24,522.34 226.06,521.93 225.84,521.53 225.6,521.14 225.34,520.77 225.06,520.43 224.77,520.13 224.47,519.86 224.16,519.64 223.86,519.47 223.57,519.34 223.29,519.27 223.03,519.25 222.79,519.28 222.58,519.37 219.98,520.87 219.8,521.01 219.65,521.2 219.54,521.44 219.46,521.72 219.42,522.03 219.42,522.38 219.47,522.75 219.55,523.14 219.66,523.55 219.82,523.96 220,524.37 220.22,524.77 220.46,525.16 220.72,525.53 221,525.87 221.29,526.17 221.59,526.44 221.9,526.66 222.2,526.83 222.49,526.96 222.77,527.03 223.03,527.05 223.27,527.02 223.48,526.93" fill="#fff" stroke="#1c1c1c" stroke-width="1.0" stroke-linejoin="round" stroke-linecap="round" />
<ellipse cx="0" cy="0" rx="1.75" ry="3.5" transform="translate(221.73 523.9) rotate(-30)" fill="#fff" stroke="#1c1c1c" stroke-width="1.0" />
<polygon points="143.07,532.02 143.69,531.55 144.2,530.92 144.6,530.14 144.87,529.22 145.01,528.18 145.03,527.04 144.91,525.81 144.66,524.52 144.29,523.19 143.8,521.84 143.2,520.5 142.5,519.19 141.71,517.92 140.85,516.73 139.93,515.63 138.96,514.65 137.97,513.79 136.96,513.07 135.97,512.51 135,512.12 134.06,511.89 133.19,511.85 132.38,511.97 131.67,512.28 129.5,513.53 128.88,514 128.37,514.63 127.97,515.41 127.7,516.33 127.55,517.37 127.54,518.51 127.66,519.74 127.9,521.03 128.28,522.36 128.77,523.71 129.37,525.05 130.07,526.36 130.85,527.63 131.72,528.82 132.64,529.92 133.6,530.9 134.6,531.76 135.6,532.48 136.6,533.04 137.57,533.43 138.5,533.66 139.38,533.7 140.18,533.58 140.9,533.27" fill="#fff" stroke="#1c1c1c" stroke-width="1.3" stroke-linejoin="round" stroke-linecap="round" />
<ellipse cx="0" cy="0" rx="5.93" ry="11.4" transform="translate(135.2 523.4) rotate(-30)" fill="#fff" stroke="#1c1c1c" stroke-width="1.3" />
<polygon points="125.34,520.69 129.67,518.19 133.45,516.01 138.98,521.22 140.73,528.61 136.4,531.11 132.62,533.29 127.09,528.08" fill="#fff" stroke="#1c1c1c" stroke-width="1.2" stroke-linejoin="round" stroke-linecap="round" />
<line x1="134.65" y1="523.72" x2="138.98" y2="521.22" stroke="#1c1c1c" stroke-width="0.96" />
<line x1="136.4" y1="531.11" x2="140.73" y2="528.61" stroke="#1c1c1c" stroke-width="0.96" />
<line x1="132.62" y1="533.29" x2="136.95" y2="530.79" stroke="#1c1c1c" stroke-width="0.96" />
<line x1="127.09" y1="528.08" x2="131.42" y2="525.58" stroke="#1c1c1c" stroke-width="0.96" />
<line x1="125.34" y1="520.69" x2="129.67" y2="518.19" stroke="#1c1c1c" stroke-width="0.96" />
<line x1="129.12" y1="518.51" x2="133.45" y2="516.01" stroke="#1c1c1c" stroke-width="0.96" />
<polygon points="125.34,520.69 129.67,518.19 133.45,516.01 138.98,521.22 140.73,528.61 136.4,531.11 132.62,533.29 127.09,528.08" fill="none" stroke="#1c1c1c" stroke-width="1.2" stroke-linejoin="round" stroke-linecap="round" />
<polygon points="134.65,523.72 136.4,531.11 132.62,533.29 127.09,528.08 125.34,520.69 129.12,518.51" fill="#fff" stroke="#1c1c1c" stroke-width="1.2" stroke-linejoin="round" stroke-linecap="round" />
<ellipse cx="0" cy="0" rx="1.98" ry="3.8" transform="translate(130.87 525.9) rotate(-30)" fill="#fff" stroke="#1c1c1c" stroke-width="1.1" />
<line x1="163.8" y1="509.11" x2="147.6" y2="518.5" stroke="#161616" stroke-width="1.2" />
<polygon points="193.07,553.02 193.69,552.55 194.2,551.92 194.6,551.14 194.87,550.22 195.01,549.18 195.03,548.04 194.91,546.81 194.66,545.52 194.29,544.19 193.8,542.84 193.2,541.5 192.5,540.19 191.71,538.92 190.85,537.73 189.93,536.63 188.96,535.65 187.97,534.79 186.96,534.07 185.97,533.51 185,533.12 184.06,532.89 183.19,532.85 182.38,532.97 181.67,533.28 179.5,534.53 178.88,535 178.37,535.63 177.97,536.41 177.7,537.33 177.55,538.37 177.54,539.51 177.66,540.74 177.9,542.03 178.28,543.36 178.77,544.71 179.37,546.05 180.07,547.36 180.85,548.63 181.72,549.82 182.64,550.92 183.6,551.9 184.6,552.76 185.6,553.48 186.6,554.04 187.57,554.43 188.5,554.66 189.38,554.7 190.18,554.58 190.9,554.27" fill="#fff" stroke="#1c1c1c" stroke-width="1.3" stroke-linejoin="round" stroke-linecap="round" />
<ellipse cx="0" cy="0" rx="5.93" ry="11.4" transform="translate(185.2 544.4) rotate(-30)" fill="#fff" stroke="#1c1c1c" stroke-width="1.3" />
<polygon points="175.34,541.69 179.67,539.19 183.45,537.01 188.98,542.22 190.73,549.61 186.4,552.11 182.62,554.29 177.09,549.08" fill="#fff" stroke="#1c1c1c" stroke-width="1.2" stroke-linejoin="round" stroke-linecap="round" />
<line x1="184.65" y1="544.72" x2="188.98" y2="542.22" stroke="#1c1c1c" stroke-width="0.96" />
<line x1="186.4" y1="552.11" x2="190.73" y2="549.61" stroke="#1c1c1c" stroke-width="0.96" />
<line x1="182.62" y1="554.29" x2="186.95" y2="551.79" stroke="#1c1c1c" stroke-width="0.96" />
<line x1="177.09" y1="549.08" x2="181.42" y2="546.58" stroke="#1c1c1c" stroke-width="0.96" />
<line x1="175.34" y1="541.69" x2="179.67" y2="539.19" stroke="#1c1c1c" stroke-width="0.96" />
<line x1="179.12" y1="539.51" x2="183.45" y2="537.01" stroke="#1c1c1c" stroke-width="0.96" />
<polygon points="175.34,541.69 179.67,539.19 183.45,537.01 188.98,542.22 190.73,549.61 186.4,552.11 182.62,554.29 177.09,549.08" fill="none" stroke="#1c1c1c" stroke-width="1.2" stroke-linejoin="round" stroke-linecap="round" />
<polygon points="184.65,544.72 186.4,552.11 182.62,554.29 177.09,549.08 175.34,541.69 179.12,539.51" fill="#fff" stroke="#1c1c1c" stroke-width="1.2" stroke-linejoin="round" stroke-linecap="round" />
<ellipse cx="0" cy="0" rx="1.98" ry="3.8" transform="translate(180.87 546.9) rotate(-30)" fill="#fff" stroke="#1c1c1c" stroke-width="1.1" />
<line x1="213.5" y1="528.68" x2="197.5" y2="537.85" stroke="#161616" stroke-width="1.2" />
<polygon points="597.93,586.94 598.31,586.65 598.61,586.26 598.85,585.77 599.01,585.2 599.08,584.55 599.08,583.84 598.99,583.07 598.83,582.26 598.59,581.42 598.27,580.58 597.89,579.73 597.45,578.9 596.95,578.1 596.41,577.35 595.83,576.65 595.23,576.02 594.61,575.48 593.99,575.02 593.37,574.66 592.77,574.4 592.2,574.25 591.66,574.21 591.17,574.28 590.73,574.46 579.38,581.01 579.01,581.3 578.7,581.69 578.47,582.18 578.31,582.75 578.23,583.4 578.23,584.11 578.32,584.88 578.48,585.69 578.73,586.53 579.04,587.37 579.42,588.22 579.87,589.05 580.36,589.85 580.9,590.6 581.48,591.3 582.08,591.93 582.7,592.47 583.33,592.93 583.94,593.29 584.54,593.55 585.12,593.7 585.65,593.74 586.15,593.67 586.58,593.49" fill="#fff" stroke="#1c1c1c" stroke-width="1.3" stroke-linejoin="round" stroke-linecap="round" />
<ellipse cx="0" cy="0" rx="3.6" ry="7.2" transform="translate(582.98 587.25) rotate(-30)" fill="#fff" stroke="#1c1c1c" stroke-width="1.3" />
<polygon points="591.98,602.84 592.92,602.12 593.69,601.14 594.28,599.93 594.68,598.5 594.87,596.88 594.86,595.09 594.65,593.17 594.23,591.15 593.63,589.06 592.84,586.94 591.89,584.82 590.78,582.75 589.54,580.75 588.18,578.87 586.74,577.13 585.23,575.56 583.69,574.19 582.13,573.05 580.59,572.14 579.09,571.5 577.65,571.13 576.31,571.03 575.08,571.21 573.98,571.66 561.6,578.81 560.66,579.53 559.89,580.51 559.3,581.72 558.91,583.15 558.71,584.77 558.72,586.56 558.94,588.48 559.35,590.5 559.95,592.59 560.74,594.71 561.7,596.83 562.81,598.9 564.05,600.9 565.4,602.78 566.84,604.52 568.35,606.09 569.9,607.46 571.45,608.6 573,609.51 574.5,610.15 575.93,610.52 577.28,610.62 578.51,610.44 579.6,609.99" fill="#fff" stroke="#1c1c1c" stroke-width="1.4" stroke-linejoin="round" stroke-linecap="round" />
<ellipse cx="0" cy="0" rx="9" ry="18" transform="translate(570.6 594.4) rotate(-30)" fill="#fff" stroke="#1c1c1c" stroke-width="1.4" />
<ellipse cx="0" cy="0" rx="7.92" ry="15.84" transform="translate(570.6 594.4) rotate(-30)" fill="#fff" stroke="#aaa" stroke-width="0.7" />
<ellipse cx="0" cy="0" rx="5.94" ry="11.88" transform="translate(570.08 594.7) rotate(-30)" fill="#fff" stroke="#8a8a8a" stroke-width="0.8" />
<polygon points="573.66,599.7 573.98,599.46 574.24,599.12 574.44,598.71 574.58,598.23 574.64,597.67 574.64,597.07 574.57,596.41 574.42,595.73 574.22,595.01 573.95,594.29 573.63,593.57 573.25,592.87 572.83,592.19 572.37,591.55 571.88,590.96 571.37,590.42 570.84,589.96 570.31,589.57 569.79,589.26 569.27,589.04 568.79,588.92 568.33,588.88 567.91,588.95 567.54,589.1 564.51,590.85 564.19,591.09 563.93,591.43 563.73,591.84 563.59,592.32 563.53,592.88 563.53,593.48 563.6,594.14 563.74,594.82 563.95,595.54 564.22,596.26 564.54,596.98 564.92,597.68 565.34,598.36 565.8,599 566.29,599.59 566.8,600.13 567.33,600.59 567.86,600.98 568.38,601.29 568.89,601.5 569.38,601.63 569.84,601.67 570.26,601.6 570.63,601.45" fill="#fff" stroke="#1c1c1c" stroke-width="1.0" stroke-linejoin="round" stroke-linecap="round" />
<ellipse cx="0" cy="0" rx="3.06" ry="6.12" transform="translate(567.57 596.15) rotate(-30)" fill="#fff" stroke="#1c1c1c" stroke-width="1.0" />
<line x1="567" y1="596.3" x2="549.5" y2="606.4" stroke="#1c1c1c" stroke-width="1.0" />
<line x1="565.2" y1="593.4" x2="547.5" y2="603.6" stroke="#1c1c1c" stroke-width="1.0" />
<line x1="598" y1="580.6" x2="614.5" y2="571" stroke="#1c1c1c" stroke-width="1.2" />
<polygon points="633.96,567.07 634.42,566.72 634.8,566.24 635.08,565.65 635.28,564.95 635.37,564.16 635.37,563.28 635.26,562.34 635.06,561.36 634.77,560.33 634.38,559.3 633.91,558.26 633.37,557.25 632.76,556.27 632.1,555.35 631.4,554.5 630.66,553.73 629.91,553.07 629.14,552.51 628.39,552.06 627.66,551.75 626.95,551.57 626.3,551.52 625.7,551.61 625.16,551.83 617.8,556.08 617.34,556.43 616.96,556.91 616.68,557.5 616.48,558.2 616.39,558.99 616.39,559.87 616.5,560.81 616.7,561.79 617,562.82 617.38,563.85 617.85,564.89 618.39,565.9 619,566.88 619.66,567.8 620.36,568.65 621.1,569.42 621.86,570.08 622.62,570.64 623.37,571.09 624.11,571.4 624.81,571.58 625.46,571.63 626.06,571.54 626.6,571.32" fill="#fff" stroke="#1c1c1c" stroke-width="1.4" stroke-linejoin="round" stroke-linecap="round" />
<ellipse cx="0" cy="0" rx="4.4" ry="8.8" transform="translate(622.2 563.7) rotate(-30)" fill="#fff" stroke="#1c1c1c" stroke-width="1.4" />
<polygon points="627.74,573.31 628.32,572.87 628.79,572.27 629.15,571.52 629.4,570.64 629.51,569.64 629.51,568.54 629.38,567.35 629.12,566.1 628.75,564.81 628.26,563.51 627.68,562.2 626.99,560.93 626.23,559.69 625.39,558.53 624.5,557.46 623.57,556.49 622.62,555.65 621.66,554.94 620.71,554.38 619.78,553.99 618.9,553.76 618.07,553.7 617.31,553.81 616.64,554.09 615.25,554.89 614.67,555.33 614.2,555.93 613.83,556.68 613.59,557.56 613.47,558.56 613.48,559.66 613.61,560.85 613.86,562.1 614.24,563.39 614.72,564.69 615.31,566 615.99,567.27 616.76,568.51 617.59,569.67 618.48,570.74 619.41,571.71 620.37,572.55 621.33,573.26 622.28,573.82 623.2,574.21 624.09,574.44 624.92,574.5 625.68,574.39 626.35,574.11" fill="#fff" stroke="#1c1c1c" stroke-width="1.4" stroke-linejoin="round" stroke-linecap="round" />
<ellipse cx="0" cy="0" rx="5.55" ry="11.1" transform="translate(620.8 564.5) rotate(-30)" fill="#fff" stroke="#1c1c1c" stroke-width="1.4" />
<ellipse cx="0" cy="0" rx="3.5" ry="7" transform="translate(620.9 564.5) rotate(-30)" fill="#fff" stroke="#666" stroke-width="0.9" />
<ellipse cx="0" cy="0" rx="1.8" ry="3.6" transform="translate(621 564.5) rotate(-30)" fill="#bbb" stroke="#333" stroke-width="1.1" />
<polygon points="408.52,691.69 489.22,645.89 489.65,645.43 489.85,644.68 489.8,643.71 489.51,642.63 489,641.54 488.32,640.54 487.54,639.73 486.74,639.19 485.99,638.98 485.38,639.11 404.68,684.91" fill="#fff" stroke="#1c1c1c" stroke-width="1.4" stroke-linejoin="round" stroke-linecap="round" />
<polyline points="488.18,646.48 488.77,645.55 488.69,643.95 487.95,642.13 486.76,640.56 485.44,639.67 484.33,639.7" fill="none" stroke="#1c1c1c" stroke-width="0.7" stroke-linejoin="round" stroke-linecap="round" />
<polyline points="486.35,647.52 486.95,646.58 486.86,644.99 486.13,643.17 484.94,641.6 483.61,640.71 482.51,640.74" fill="none" stroke="#1c1c1c" stroke-width="0.7" stroke-linejoin="round" stroke-linecap="round" />
<polyline points="484.53,648.56 485.12,647.62 485.03,646.03 484.3,644.2 483.11,642.64 481.78,641.75 480.68,641.77" fill="none" stroke="#1c1c1c" stroke-width="0.7" stroke-linejoin="round" stroke-linecap="round" />
<polyline points="482.7,649.59 483.29,648.66 483.21,647.06 482.47,645.24 481.28,643.67 479.96,642.78 478.85,642.81" fill="none" stroke="#1c1c1c" stroke-width="0.7" stroke-linejoin="round" stroke-linecap="round" />
<polyline points="480.88,650.63 481.47,649.69 481.38,648.1 480.65,646.28 479.46,644.71 478.13,643.82 477.03,643.85" fill="none" stroke="#1c1c1c" stroke-width="0.7" stroke-linejoin="round" stroke-linecap="round" />
<polyline points="479.05,651.67 479.64,650.73 479.56,649.14 478.82,647.31 477.63,645.75 476.31,644.86 475.2,644.88" fill="none" stroke="#1c1c1c" stroke-width="0.7" stroke-linejoin="round" stroke-linecap="round" />
<polyline points="477.22,652.7 477.81,651.77 477.73,650.17 476.99,648.35 475.8,646.78 474.48,645.89 473.37,645.92" fill="none" stroke="#1c1c1c" stroke-width="0.7" stroke-linejoin="round" stroke-linecap="round" />
<polyline points="475.4,653.74 475.99,652.8 475.9,651.21 475.17,649.39 473.98,647.82 472.65,646.93 471.55,646.96" fill="none" stroke="#1c1c1c" stroke-width="0.7" stroke-linejoin="round" stroke-linecap="round" />
<polyline points="473.57,654.78 474.16,653.84 474.08,652.25 473.34,650.42 472.15,648.86 470.83,647.97 469.72,647.99" fill="none" stroke="#1c1c1c" stroke-width="0.7" stroke-linejoin="round" stroke-linecap="round" />
<polyline points="471.74,655.81 472.33,654.88 472.25,653.28 471.51,651.46 470.33,649.89 469,649 467.89,649.03" fill="none" stroke="#1c1c1c" stroke-width="0.7" stroke-linejoin="round" stroke-linecap="round" />
<polygon points="412.52,698.74 413.15,698.26 413.67,697.61 414.07,696.81 414.34,695.86 414.48,694.78 414.48,693.59 414.35,692.3 414.08,690.95 413.69,689.56 413.17,688.14 412.55,686.73 411.82,685.34 411,684 410.11,682.74 409.15,681.57 408.16,680.52 407.13,679.6 406.1,678.83 405.08,678.22 404.08,677.78 403.12,677.52 402.23,677.45 401.41,677.57 400.68,677.86 399.37,678.6 398.74,679.08 398.22,679.73 397.83,680.53 397.56,681.48 397.42,682.56 397.42,683.75 397.55,685.04 397.81,686.39 398.21,687.78 398.72,689.2 399.35,690.61 400.08,692 400.9,693.34 401.79,694.6 402.74,695.77 403.74,696.82 404.76,697.74 405.79,698.51 406.82,699.12 407.82,699.56 408.77,699.82 409.67,699.89 410.49,699.77 411.22,699.48" fill="#fff" stroke="#1c1c1c" stroke-width="1.4" stroke-linejoin="round" stroke-linecap="round" />
<ellipse cx="0" cy="0" rx="6" ry="12" transform="translate(405.3 689.04) rotate(-29.58)" fill="#fff" stroke="#1c1c1c" stroke-width="1.4" />
<polygon points="393.75,687.43 397.31,685.41 403.57,681.85 408.86,687.02 410.58,694.2 407.02,696.23 400.76,699.78 395.47,694.62" fill="#fff" stroke="#1c1c1c" stroke-width="1.4" stroke-linejoin="round" stroke-linecap="round" />
<line x1="402.6" y1="690.57" x2="408.86" y2="687.02" stroke="#1c1c1c" stroke-width="1.1199999999999999" />
<line x1="404.32" y1="697.76" x2="410.58" y2="694.2" stroke="#1c1c1c" stroke-width="1.1199999999999999" />
<line x1="400.76" y1="699.78" x2="407.02" y2="696.23" stroke="#1c1c1c" stroke-width="1.1199999999999999" />
<line x1="395.47" y1="694.62" x2="401.73" y2="691.06" stroke="#1c1c1c" stroke-width="1.1199999999999999" />
<line x1="393.75" y1="687.43" x2="400.01" y2="683.88" stroke="#1c1c1c" stroke-width="1.1199999999999999" />
<line x1="397.31" y1="685.41" x2="403.57" y2="681.85" stroke="#1c1c1c" stroke-width="1.1199999999999999" />
<polygon points="393.75,687.43 397.31,685.41 403.57,681.85 408.86,687.02 410.58,694.2 407.02,696.23 400.76,699.78 395.47,694.62" fill="none" stroke="#1c1c1c" stroke-width="1.4" stroke-linejoin="round" stroke-linecap="round" />
<polygon points="402.6,690.57 404.32,697.76 400.76,699.78 395.47,694.62 393.75,687.43 397.31,685.41" fill="#fff" stroke="#1c1c1c" stroke-width="1.4" stroke-linejoin="round" stroke-linecap="round" />
<rect x="135.2" y="200" width="41.6" height="73.5" fill="#fcfc1c" style="mix-blend-mode:multiply"/>
<text x="171" y="150" text-anchor="middle" font-size="12.2" font-weight="bold" fill="#1d1dc0" stroke="#1d1dc0" stroke-width="0.35">14</text>
<line x1="178.8" y1="138.5" x2="199.3" y2="117.5" stroke="#262626" stroke-width="1.15" />
<circle cx="199.3" cy="117.5" r="1.7" fill="#111"/>
<text x="300" y="99.4" text-anchor="middle" font-size="12.2" font-weight="bold" fill="#1d1dc0" stroke="#1d1dc0" stroke-width="0.35">13</text>
<line x1="289.5" y1="103.7" x2="279.5" y2="113.5" stroke="#262626" stroke-width="1.15" />
<circle cx="279.5" cy="113.5" r="1.7" fill="#111"/>
<text x="126.2" y="187.8" text-anchor="middle" font-size="12.2" font-weight="bold" fill="#1d1dc0" stroke="#1d1dc0" stroke-width="0.35">17</text>
<line x1="125.5" y1="192.5" x2="125.5" y2="215.7" stroke="#262626" stroke-width="1.15" />
<circle cx="125.5" cy="215.7" r="1.7" fill="#111"/>
<text x="189.2" y="187.6" text-anchor="middle" font-size="12.2" font-weight="bold" fill="#1d1dc0" stroke="#1d1dc0" stroke-width="0.35">8</text>
<line x1="195.2" y1="185.6" x2="217.5" y2="195.8" stroke="#262626" stroke-width="1.15" />
<text x="569" y="109.6" text-anchor="middle" font-size="12.2" font-weight="bold" fill="#1d1dc0" stroke="#1d1dc0" stroke-width="0.35">7</text>
<line x1="568" y1="113.7" x2="568" y2="128.5" stroke="#262626" stroke-width="1.15" />
<text x="474.3" y="138.8" text-anchor="middle" font-size="12.2" font-weight="bold" fill="#1d1dc0" stroke="#1d1dc0" stroke-width="0.35">17</text>
<line x1="482.5" y1="140" x2="498.7" y2="157.5" stroke="#262626" stroke-width="1.15" />
<circle cx="498.7" cy="157.5" r="1.7" fill="#111"/>
<text x="411.3" y="152" text-anchor="middle" font-size="12.2" font-weight="bold" fill="#1d1dc0" stroke="#1d1dc0" stroke-width="0.35">11</text>
<line x1="411.3" y1="156.5" x2="411.3" y2="176.4" stroke="#262626" stroke-width="1.15" />
<circle cx="411.3" cy="176.4" r="1.7" fill="#111"/>
<text x="449.6" y="168.7" text-anchor="middle" font-size="12.2" font-weight="bold" fill="#1d1dc0" stroke="#1d1dc0" stroke-width="0.35">12</text>
<line x1="449.5" y1="173.5" x2="449.5" y2="208.7" stroke="#262626" stroke-width="1.15" />
<circle cx="449.5" cy="208.7" r="1.7" fill="#111"/>
<text x="530.6" y="218" text-anchor="middle" font-size="12.2" font-weight="bold" fill="#1d1dc0" stroke="#1d1dc0" stroke-width="0.35">9</text>
<line x1="530.7" y1="206.6" x2="530.7" y2="192" stroke="#262626" stroke-width="1.15" />
<circle cx="530.7" cy="192" r="1.7" fill="#111"/>
<line x1="532.3" y1="221.6" x2="536.4" y2="219.4" stroke="#1f1fd2" stroke-width="1.2" />
<text x="558.6" y="283.6" text-anchor="middle" font-size="12.2" font-weight="bold" fill="#1d1dc0" stroke="#1d1dc0" stroke-width="0.35">8</text>
<line x1="553.7" y1="272.5" x2="543.7" y2="263.7" stroke="#262626" stroke-width="1.15" />
<text x="640.5" y="285" text-anchor="middle" font-size="12.2" font-weight="bold" fill="#1d1dc0" stroke="#1d1dc0" stroke-width="0.35">16</text>
<line x1="640" y1="270.5" x2="640" y2="242" stroke="#262626" stroke-width="1.15" />
<circle cx="640" cy="242" r="1.7" fill="#111"/>
<text x="297.3" y="248.8" text-anchor="middle" font-size="12.2" font-weight="bold" fill="#1d1dc0" stroke="#1d1dc0" stroke-width="0.35">13</text>
<line x1="296.5" y1="235.2" x2="296.5" y2="204.8" stroke="#262626" stroke-width="1.15" />
<circle cx="296.5" cy="204.8" r="1.7" fill="#111"/>
<text x="314.6" y="265.4" text-anchor="middle" font-size="12.2" font-weight="bold" fill="#1d1dc0" stroke="#1d1dc0" stroke-width="0.35">11</text>
<line x1="314.2" y1="253.2" x2="314.2" y2="221.7" stroke="#262626" stroke-width="1.15" />
<circle cx="314.2" cy="221.7" r="1.7" fill="#111"/>
<text x="370.8" y="276.6" text-anchor="middle" font-size="12.2" font-weight="bold" fill="#1d1dc0" stroke="#1d1dc0" stroke-width="0.35">10</text>
<line x1="379" y1="265.2" x2="402" y2="243.2" stroke="#262626" stroke-width="1.15" />
<circle cx="402" cy="243.2" r="1.7" fill="#111"/>
<text x="372" y="341" text-anchor="middle" font-size="12.2" font-weight="bold" fill="#1d1dc0" stroke="#1d1dc0" stroke-width="0.35">16</text>
<line x1="363" y1="336.2" x2="335.7" y2="336.2" stroke="#262626" stroke-width="1.15" />
<circle cx="335.7" cy="336.2" r="1.7" fill="#111"/>
<text x="540" y="372.4" text-anchor="middle" font-size="12.2" font-weight="bold" fill="#1d1dc0" stroke="#1d1dc0" stroke-width="0.35">12</text>
<line x1="540.5" y1="357.5" x2="540.5" y2="336" stroke="#262626" stroke-width="1.15" />
<circle cx="540.5" cy="336" r="1.7" fill="#111"/>
<text x="591.2" y="403.2" text-anchor="middle" font-size="12.2" font-weight="bold" fill="#1d1dc0" stroke="#1d1dc0" stroke-width="0.35">18</text>
<line x1="590.6" y1="390.7" x2="590.6" y2="368.4" stroke="#262626" stroke-width="1.15" />
<circle cx="590.6" cy="368.4" r="1.7" fill="#111"/>
<text x="676.2" y="415.2" text-anchor="middle" font-size="12.2" font-weight="bold" fill="#1d1dc0" stroke="#1d1dc0" stroke-width="0.35">15</text>
<line x1="676" y1="402" x2="676" y2="378.5" stroke="#262626" stroke-width="1.15" />
<circle cx="676" cy="378.5" r="1.7" fill="#111"/>
<text x="327.2" y="389.4" text-anchor="middle" font-size="12.2" font-weight="bold" fill="#1d1dc0" stroke="#1d1dc0" stroke-width="0.35">5</text>
<line x1="332.5" y1="383.8" x2="360.6" y2="383.8" stroke="#262626" stroke-width="1.15" />
<circle cx="360.6" cy="383.8" r="1.7" fill="#111"/>
<text x="482" y="408.4" text-anchor="middle" font-size="12.2" font-weight="bold" fill="#1d1dc0" stroke="#1d1dc0" stroke-width="0.35">5</text>
<line x1="475.4" y1="404" x2="443.9" y2="404" stroke="#262626" stroke-width="1.15" />
<circle cx="443.9" cy="404" r="1.7" fill="#111"/>
<text x="576" y="437" text-anchor="middle" font-size="12.2" font-weight="bold" fill="#1d1dc0" stroke="#1d1dc0" stroke-width="0.35">1</text>
<line x1="571.4" y1="440.4" x2="557" y2="461" stroke="#262626" stroke-width="1.15" />
<text x="150.6" y="457.4" text-anchor="middle" font-size="12.2" font-weight="bold" fill="#1d1dc0" stroke="#1d1dc0" stroke-width="0.35">3</text>
<line x1="155.6" y1="459" x2="177" y2="477" stroke="#262626" stroke-width="1.15" />
<circle cx="177" cy="477" r="1.7" fill="#111"/>
<text x="272" y="561" text-anchor="middle" font-size="12.2" font-weight="bold" fill="#1d1dc0" stroke="#1d1dc0" stroke-width="0.35">3</text>
<line x1="266" y1="549" x2="248.7" y2="531" stroke="#262626" stroke-width="1.15" />
<circle cx="248.7" cy="531" r="1.7" fill="#111"/>
<text x="133.2" y="573.2" text-anchor="middle" font-size="12.2" font-weight="bold" fill="#1d1dc0" stroke="#1d1dc0" stroke-width="0.35">4</text>
<line x1="134" y1="560" x2="134" y2="535.8" stroke="#262626" stroke-width="1.15" />
<circle cx="134" cy="535.8" r="1.7" fill="#111"/>
<text x="181.4" y="595.2" text-anchor="middle" font-size="12.2" font-weight="bold" fill="#1d1dc0" stroke="#1d1dc0" stroke-width="0.35">4</text>
<line x1="182" y1="581" x2="182" y2="557.2" stroke="#262626" stroke-width="1.15" />
<circle cx="182" cy="557.2" r="1.7" fill="#111"/>
<text x="538" y="552.4" text-anchor="middle" font-size="12.2" font-weight="bold" fill="#1d1dc0" stroke="#1d1dc0" stroke-width="0.35">2</text>
<line x1="543" y1="553.6" x2="565.9" y2="575.8" stroke="#262626" stroke-width="1.15" />
<circle cx="565.9" cy="575.8" r="1.7" fill="#111"/>
<text x="656.8" y="608.2" text-anchor="middle" font-size="12.2" font-weight="bold" fill="#1d1dc0" stroke="#1d1dc0" stroke-width="0.35">4</text>
<line x1="650.7" y1="597.4" x2="629.4" y2="575" stroke="#262626" stroke-width="1.15" />
<circle cx="629.4" cy="575" r="1.7" fill="#111"/>
<text x="404.6" y="647.4" text-anchor="middle" font-size="12.2" font-weight="bold" fill="#1d1dc0" stroke="#1d1dc0" stroke-width="0.35">6</text>
<line x1="410" y1="648" x2="429.5" y2="667" stroke="#262626" stroke-width="1.15" />
<circle cx="429.5" cy="667" r="1.7" fill="#111"/>
<rect x="190.6" y="220.8" width="13.8" height="17.3" fill="#c79cb6" stroke="#a3708f" stroke-width="1"/>
<line x1="190.5" y1="229.6" x2="167.2" y2="229.6" stroke="#111" stroke-width="1.1" />
<circle cx="167.2" cy="229.3" r="1.7" fill="#111"/>
<text x="197.6" y="234" text-anchor="middle" font-size="12.2" font-weight="bold" fill="#1d1dc0" stroke="#1d1dc0" stroke-width="0.35">9</text>
<text x="649.4" y="677.6" text-anchor="middle" font-size="11.2" fill="#303030" stroke="#303030" stroke-width="0.2">B07.010</text>
<text x="648.8" y="697.2" text-anchor="middle" font-size="11.2" fill="#303030" stroke="#303030" stroke-width="0.2">08-2002</text>
<text x="649.6" y="716.8" text-anchor="middle" font-size="11.2" fill="#303030" stroke="#303030" stroke-width="0.2">L5</text>
<text x="647.6" y="736.2" text-anchor="middle" font-size="11.2" fill="#303030" stroke="#303030" stroke-width="0.2">LE0052A</text>
<rect x="600" y="733.8" width="120" height="20" fill="#fff"/>
</svg>
</body></html>
